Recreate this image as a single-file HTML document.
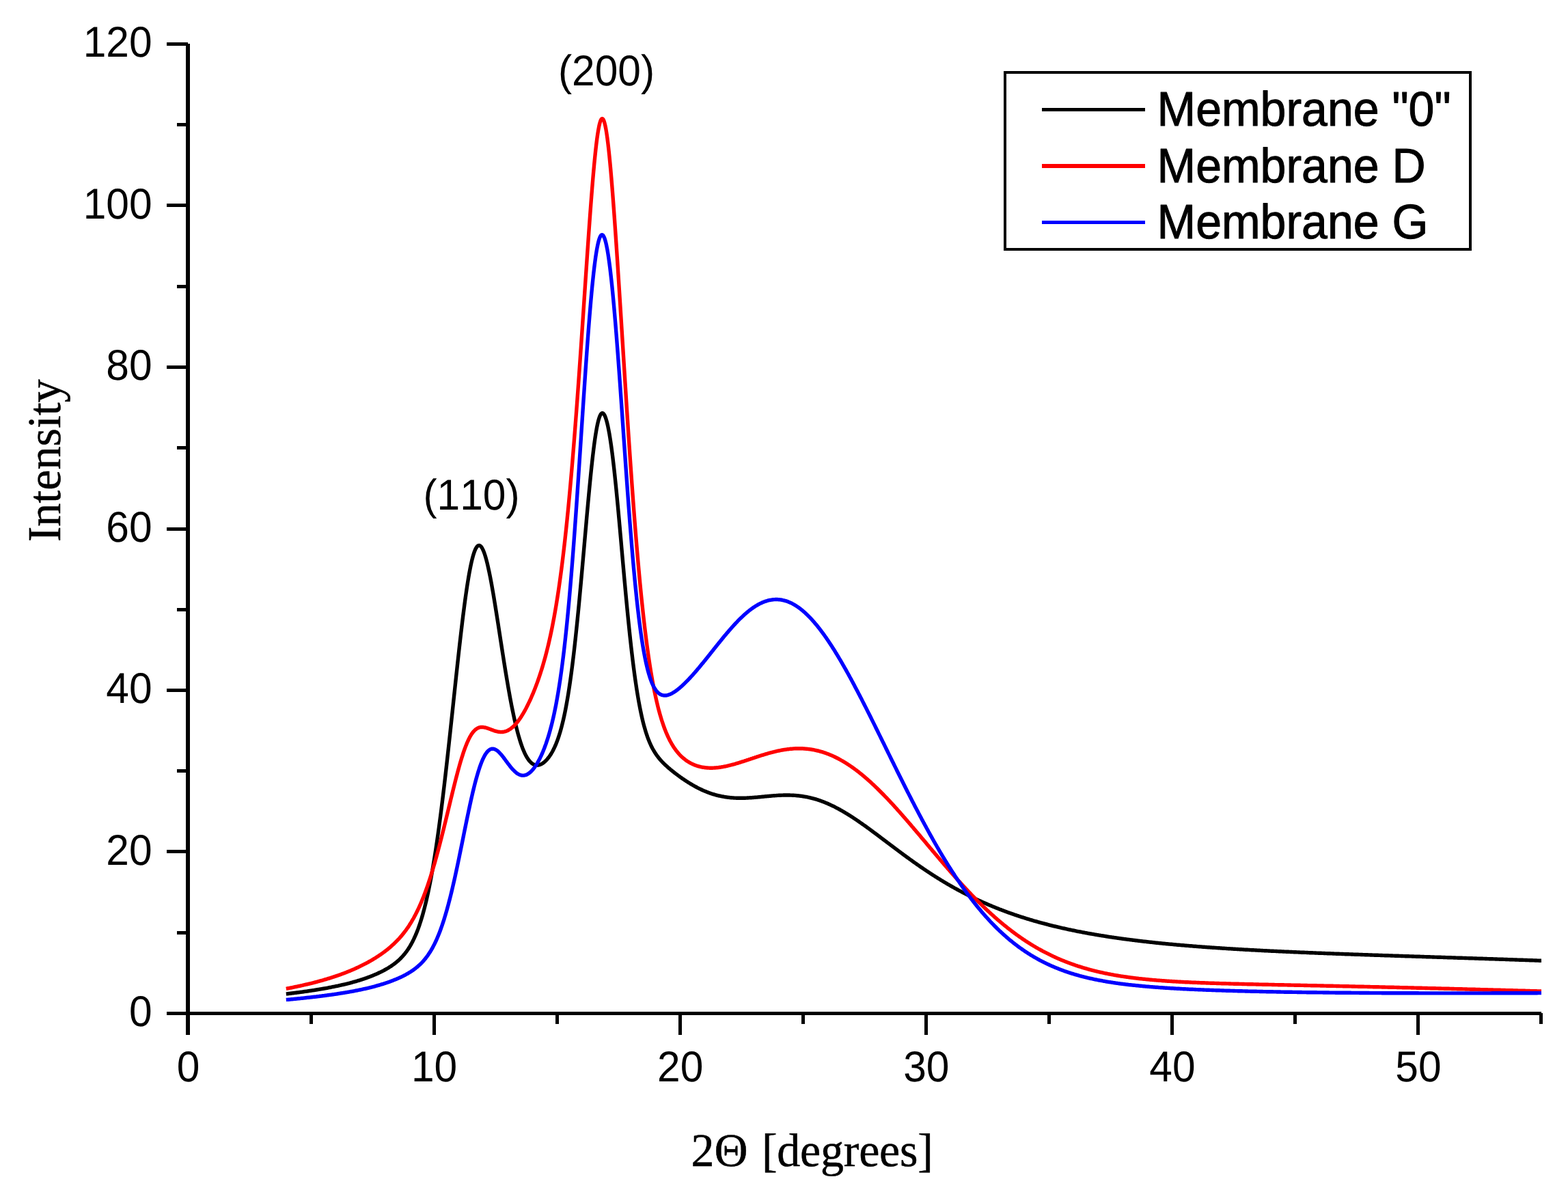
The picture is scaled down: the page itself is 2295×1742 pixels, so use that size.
<!DOCTYPE html>
<html lang="en">
<head>
<meta charset="utf-8">
<title>XRD patterns of membranes</title>
<style>
html,body{margin:0;padding:0;background:#fff;}
body{width:2295px;height:1742px;}
svg{display:block;}
text{font-kerning:none;font-variant-ligatures:none;text-rendering:geometricPrecision;}
.tick{font-family:"Liberation Sans",Arial,Helvetica,sans-serif;font-size:60.5px;fill:#000;}
.leg{font-family:"Liberation Sans",Arial,Helvetica,sans-serif;font-size:68px;fill:#000;stroke:#000;stroke-width:1px;stroke-linejoin:round;}
.ttl{font-family:"Liberation Serif","Times New Roman",Times,serif;font-size:68px;fill:#000;stroke:#000;stroke-width:0.5px;}
.ax{fill:#000;shape-rendering:crispEdges;}
.curve{fill:none;stroke-width:5.4;stroke-linejoin:round;stroke-linecap:butt;}
</style>
</head>
<body>
<svg width="2295" height="1742" viewBox="0 0 2295 1742">
<rect x="0" y="0" width="2295" height="1742" fill="#fff"/>
<g id="curves">
<path class="curve" stroke="#000000" d="M418.8 1455.0L419.8 1454.9 420.8 1454.8 421.8 1454.7 422.8 1454.5 423.8 1454.4 424.8 1454.3 425.8 1454.2 426.8 1454.0 427.8 1453.9 428.8 1453.8 429.8 1453.7 430.8 1453.5 431.8 1453.4 432.8 1453.3 433.8 1453.2 434.8 1453.0 435.8 1452.9 436.8 1452.8 437.8 1452.6 438.8 1452.5 439.8 1452.4 440.8 1452.2 441.8 1452.1 442.8 1452.0 443.8 1451.8 444.8 1451.7 445.8 1451.5 446.8 1451.4 447.8 1451.3 448.8 1451.1 449.8 1451.0 450.8 1450.8 451.8 1450.7 452.8 1450.5 453.8 1450.4 454.8 1450.2 455.8 1450.1 456.8 1449.9 457.8 1449.8 458.8 1449.6 459.8 1449.5 460.8 1449.3 461.8 1449.2 462.8 1449.0 463.8 1448.8 464.8 1448.7 465.8 1448.5 466.8 1448.4 467.8 1448.2 468.8 1448.0 469.8 1447.9 470.8 1447.7 471.8 1447.5 472.8 1447.3 473.8 1447.2 474.8 1447.0 475.8 1446.8 476.8 1446.6 477.8 1446.5 478.8 1446.3 479.8 1446.1 480.8 1445.9 481.8 1445.7 482.8 1445.5 483.8 1445.3 484.8 1445.1 485.8 1444.9 486.8 1444.7 487.8 1444.5 488.8 1444.3 489.8 1444.1 490.8 1443.9 491.8 1443.7 492.8 1443.5 493.8 1443.3 494.8 1443.1 495.8 1442.9 496.8 1442.6 497.8 1442.4 498.8 1442.2 499.8 1442.0 500.8 1441.7 501.8 1441.5 502.8 1441.3 503.8 1441.0 504.8 1440.8 505.8 1440.6 506.8 1440.3 507.8 1440.1 508.8 1439.8 509.8 1439.6 510.8 1439.3 511.8 1439.1 512.8 1438.8 513.8 1438.5 514.8 1438.3 515.8 1438.0 516.8 1437.7 517.8 1437.4 518.8 1437.1 519.8 1436.9 520.8 1436.6 521.8 1436.3 522.8 1436.0 523.8 1435.7 524.8 1435.4 525.8 1435.1 526.8 1434.8 527.8 1434.4 528.8 1434.1 529.8 1433.8 530.8 1433.5 531.8 1433.1 532.8 1432.8 533.8 1432.5 534.8 1432.1 535.8 1431.8 536.8 1431.4 537.8 1431.0 538.8 1430.7 539.8 1430.3 540.8 1429.9 541.8 1429.6 542.8 1429.2 543.8 1428.8 544.8 1428.4 545.8 1428.0 546.8 1427.6 547.8 1427.1 548.8 1426.7 549.8 1426.3 550.8 1425.9 551.8 1425.4 552.8 1425.0 553.8 1424.5 554.8 1424.0 555.8 1423.6 556.8 1423.1 557.8 1422.6 558.8 1422.1 559.8 1421.6 560.8 1421.1 561.8 1420.6 562.8 1420.0 563.8 1419.5 564.8 1418.9 565.8 1418.3 566.8 1417.8 567.8 1417.2 568.8 1416.6 569.8 1415.9 570.8 1415.3 571.8 1414.7 572.8 1414.0 573.8 1413.3 574.8 1412.6 575.8 1411.9 576.8 1411.2 577.8 1410.4 578.8 1409.6 579.8 1408.8 580.8 1408.0 581.8 1407.1 582.8 1406.3 583.8 1405.4 584.8 1404.4 585.8 1403.5 586.8 1402.5 587.8 1401.4 588.8 1400.4 589.8 1399.3 590.8 1398.1 591.8 1396.9 592.8 1395.7 593.8 1394.4 594.8 1393.1 595.8 1391.7 596.8 1390.3 597.8 1388.8 598.8 1387.2 599.8 1385.6 600.8 1383.9 601.8 1382.1 602.8 1380.3 603.8 1378.4 604.8 1376.4 605.8 1374.4 606.8 1372.2 607.8 1370.0 608.8 1367.7 609.8 1365.2 610.8 1362.7 611.8 1360.1 612.8 1357.3 613.8 1354.5 614.8 1351.5 615.8 1348.4 616.8 1345.2 617.8 1341.9 618.8 1338.4 619.8 1334.8 620.8 1331.1 621.8 1327.2 622.8 1323.2 623.8 1319.0 624.8 1314.7 625.8 1310.2 626.8 1305.6 627.8 1300.8 628.8 1295.8 629.8 1290.7 630.8 1285.4 631.8 1279.9 632.8 1274.3 633.8 1268.5 634.8 1262.5 635.8 1256.4 636.8 1250.1 637.8 1243.6 638.8 1237.0 639.8 1230.2 640.8 1223.2 641.8 1216.0 642.8 1208.7 643.8 1201.2 644.8 1193.6 645.8 1185.8 646.8 1177.9 647.8 1169.8 648.8 1161.6 649.8 1153.2 650.8 1144.7 651.8 1136.1 652.8 1127.4 653.8 1118.6 654.8 1109.6 655.8 1100.6 656.8 1091.5 657.8 1082.3 658.8 1073.1 659.8 1063.8 660.8 1054.4 661.8 1045.1 662.8 1035.7 663.8 1026.3 664.8 1016.9 665.8 1007.5 666.8 998.1 667.8 988.8 668.8 979.6 669.8 970.4 670.8 961.3 671.8 952.3 672.8 943.4 673.8 934.6 674.8 926.0 675.8 917.6 676.8 909.3 677.8 901.2 678.8 893.3 679.8 885.6 680.8 878.2 681.8 871.0 682.8 864.1 683.8 857.4 684.8 851.1 685.8 845.0 686.8 839.3 687.8 833.9 688.8 828.9 689.8 824.2 690.8 819.9 691.8 816.0 692.8 812.4 693.8 809.2 694.8 806.5 695.8 804.1 696.8 802.2 697.8 800.6 698.8 799.5 699.8 798.8 700.8 798.4 701.8 798.5 702.8 798.9 703.8 799.8 704.8 801.0 705.8 802.6 706.8 804.6 707.8 806.9 708.8 809.5 709.8 812.5 710.8 815.8 711.8 819.4 712.8 823.2 713.8 827.4 714.8 831.8 715.8 836.4 716.8 841.3 717.8 846.3 718.8 851.6 719.8 857.1 720.8 862.7 721.8 868.4 722.8 874.3 723.8 880.4 724.8 886.5 725.8 892.7 726.8 899.0 727.8 905.3 728.8 911.7 729.8 918.2 730.8 924.6 731.8 931.1 732.8 937.6 733.8 944.0 734.8 950.5 735.8 956.9 736.8 963.2 737.8 969.6 738.8 975.8 739.8 982.0 740.8 988.0 741.8 994.0 742.8 999.9 743.8 1005.7 744.8 1011.4 745.8 1017.0 746.8 1022.4 747.8 1027.7 748.8 1032.9 749.8 1037.9 750.8 1042.8 751.8 1047.5 752.8 1052.1 753.8 1056.5 754.8 1060.8 755.8 1064.9 756.8 1068.9 757.8 1072.7 758.8 1076.4 759.8 1079.8 760.8 1083.2 761.8 1086.3 762.8 1089.3 763.8 1092.2 764.8 1094.9 765.8 1097.4 766.8 1099.8 767.8 1102.1 768.8 1104.2 769.8 1106.1 770.8 1107.9 771.8 1109.6 772.8 1111.1 773.8 1112.5 774.8 1113.8 775.8 1114.9 776.8 1115.9 777.8 1116.8 778.8 1117.6 779.8 1118.3 780.8 1118.8 781.8 1119.3 782.8 1119.7 783.8 1119.9 784.8 1120.1 785.8 1120.2 786.8 1120.1 787.8 1120.0 788.8 1119.8 789.8 1119.6 790.8 1119.2 791.8 1118.8 792.8 1118.3 793.8 1117.7 794.8 1117.0 795.8 1116.3 796.8 1115.5 797.8 1114.6 798.8 1113.6 799.8 1112.6 800.8 1111.5 801.8 1110.3 802.8 1109.1 803.8 1107.7 804.8 1106.3 805.8 1104.8 806.8 1103.2 807.8 1101.5 808.8 1099.7 809.8 1097.8 810.8 1095.8 811.8 1093.7 812.8 1091.4 813.8 1089.1 814.8 1086.6 815.8 1083.9 816.8 1081.1 817.8 1078.2 818.8 1075.0 819.8 1071.8 820.8 1068.3 821.8 1064.6 822.8 1060.7 823.8 1056.7 824.8 1052.4 825.8 1047.9 826.8 1043.1 827.8 1038.1 828.8 1032.8 829.8 1027.3 830.8 1021.5 831.8 1015.5 832.8 1009.1 833.8 1002.5 834.8 995.6 835.8 988.4 836.8 980.9 837.8 973.1 838.8 965.0 839.8 956.7 840.8 948.0 841.8 939.0 842.8 929.8 843.8 920.3 844.8 910.6 845.8 900.6 846.8 890.4 847.8 879.9 848.8 869.3 849.8 858.4 850.8 847.5 851.8 836.3 852.8 825.1 853.8 813.8 854.8 802.4 855.8 791.1 856.8 779.7 857.8 768.4 858.8 757.1 859.8 746.0 860.8 735.0 861.8 724.2 862.8 713.7 863.8 703.4 864.8 693.5 865.8 683.9 866.8 674.7 867.8 666.0 868.8 657.7 869.8 649.9 870.8 642.7 871.8 636.1 872.8 630.1 873.8 624.6 874.8 619.9 875.8 615.7 876.8 612.3 877.8 609.4 878.8 607.3 879.8 605.8 880.8 604.9 881.8 604.7 882.8 605.1 883.8 606.1 884.8 607.7 885.8 609.9 886.8 612.7 887.8 616.0 888.8 619.8 889.8 624.2 890.8 629.2 891.8 634.6 892.8 640.6 893.8 647.1 894.8 654.0 895.8 661.5 896.8 669.4 897.8 677.7 898.8 686.5 899.8 695.6 900.8 705.2 901.8 715.0 902.8 725.2 903.8 735.7 904.8 746.3 905.8 757.2 906.8 768.2 907.8 779.4 908.8 790.6 909.8 801.9 910.8 813.2 911.8 824.4 912.8 835.6 913.8 846.7 914.8 857.6 915.8 868.5 916.8 879.1 917.8 889.6 918.8 899.8 919.8 909.8 920.8 919.6 921.8 929.1 922.8 938.3 923.8 947.3 924.8 955.9 925.8 964.3 926.8 972.4 927.8 980.2 928.8 987.7 929.8 994.8 930.8 1001.7 931.8 1008.3 932.8 1014.6 933.8 1020.6 934.8 1026.4 935.8 1031.8 936.8 1037.0 937.8 1041.9 938.8 1046.6 939.8 1051.1 940.8 1055.3 941.8 1059.3 942.8 1063.1 943.8 1066.6 944.8 1070.0 945.8 1073.2 946.8 1076.2 947.8 1079.1 948.8 1081.8 949.8 1084.3 950.8 1086.7 951.8 1089.0 952.8 1091.2 953.8 1093.2 954.8 1095.2 955.8 1097.0 956.8 1098.8 957.8 1100.4 958.8 1102.0 959.8 1103.5 960.8 1105.0 961.8 1106.4 962.8 1107.7 963.8 1109.0 964.8 1110.2 965.8 1111.4 966.8 1112.6 967.8 1113.7 968.8 1114.8 969.8 1115.8 970.8 1116.8 971.8 1117.8 972.8 1118.8 973.8 1119.8 974.8 1120.7 975.8 1121.6 976.8 1122.5 977.8 1123.4 978.8 1124.3 979.8 1125.1 980.8 1126.0 981.8 1126.8 982.8 1127.6 983.8 1128.4 984.8 1129.3 985.8 1130.0 986.8 1130.8 987.8 1131.6 988.8 1132.4 989.8 1133.1 990.8 1133.9 991.8 1134.6 992.8 1135.4 993.8 1136.1 994.8 1136.8 995.8 1137.6 996.8 1138.3 997.8 1139.0 998.8 1139.7 999.8 1140.4 1000.8 1141.0 1001.8 1141.7 1002.8 1142.4 1003.8 1143.0 1004.8 1143.7 1005.8 1144.3 1006.8 1145.0 1007.8 1145.6 1008.8 1146.2 1009.8 1146.8 1010.8 1147.5 1011.8 1148.0 1012.8 1148.6 1013.8 1149.2 1014.8 1149.8 1015.8 1150.4 1016.8 1150.9 1017.8 1151.5 1018.8 1152.0 1019.8 1152.5 1020.8 1153.1 1021.8 1153.6 1022.8 1154.1 1023.8 1154.6 1024.8 1155.1 1025.8 1155.5 1026.8 1156.0 1027.8 1156.5 1028.8 1156.9 1029.8 1157.4 1030.8 1157.8 1031.8 1158.2 1032.8 1158.6 1033.8 1159.0 1034.8 1159.4 1035.8 1159.8 1036.8 1160.2 1037.8 1160.6 1038.8 1160.9 1039.8 1161.3 1040.8 1161.6 1041.8 1162.0 1042.8 1162.3 1043.8 1162.6 1044.8 1162.9 1045.8 1163.2 1046.8 1163.5 1047.8 1163.8 1048.8 1164.0 1049.8 1164.3 1050.8 1164.5 1051.8 1164.8 1052.8 1165.0 1053.8 1165.2 1054.8 1165.4 1055.8 1165.7 1056.8 1165.9 1057.8 1166.0 1058.8 1166.2 1059.8 1166.4 1060.8 1166.6 1061.8 1166.7 1062.8 1166.9 1063.8 1167.0 1064.8 1167.1 1065.8 1167.3 1066.8 1167.4 1067.8 1167.5 1068.8 1167.6 1069.8 1167.7 1070.8 1167.8 1071.8 1167.9 1072.8 1167.9 1073.8 1168.0 1074.8 1168.1 1075.8 1168.1 1076.8 1168.1 1077.8 1168.2 1078.8 1168.2 1079.8 1168.2 1080.8 1168.3 1081.8 1168.3 1082.8 1168.3 1083.8 1168.3 1084.8 1168.3 1085.8 1168.3 1086.8 1168.3 1087.8 1168.3 1088.8 1168.2 1089.8 1168.2 1090.8 1168.2 1091.8 1168.1 1092.8 1168.1 1093.8 1168.0 1094.8 1168.0 1095.8 1167.9 1096.8 1167.9 1097.8 1167.8 1098.8 1167.8 1099.8 1167.7 1100.8 1167.6 1101.8 1167.5 1102.8 1167.5 1103.8 1167.4 1104.8 1167.3 1105.8 1167.2 1106.8 1167.1 1107.8 1167.1 1108.8 1167.0 1109.8 1166.9 1110.8 1166.8 1111.8 1166.7 1112.8 1166.6 1113.8 1166.5 1114.8 1166.4 1115.8 1166.3 1116.8 1166.2 1117.8 1166.1 1118.8 1166.0 1119.8 1165.9 1120.8 1165.8 1121.8 1165.7 1122.8 1165.6 1123.8 1165.5 1124.8 1165.5 1125.8 1165.4 1126.8 1165.3 1127.8 1165.2 1128.8 1165.1 1129.8 1165.0 1130.8 1164.9 1131.8 1164.9 1132.8 1164.8 1133.8 1164.7 1134.8 1164.6 1135.8 1164.6 1136.8 1164.5 1137.8 1164.4 1138.8 1164.4 1139.8 1164.3 1140.8 1164.3 1141.8 1164.2 1142.8 1164.2 1143.8 1164.1 1144.8 1164.1 1145.8 1164.1 1146.8 1164.0 1147.8 1164.0 1148.8 1164.0 1149.8 1164.0 1150.8 1164.0 1151.8 1164.0 1152.8 1164.0 1153.8 1164.0 1154.8 1164.0 1155.8 1164.0 1156.8 1164.1 1157.8 1164.1 1158.8 1164.1 1159.8 1164.2 1160.8 1164.2 1161.8 1164.3 1162.8 1164.4 1163.8 1164.4 1164.8 1164.5 1165.8 1164.6 1166.8 1164.7 1167.8 1164.8 1168.8 1164.9 1169.8 1165.0 1170.8 1165.1 1171.8 1165.2 1172.8 1165.4 1173.8 1165.5 1174.8 1165.7 1175.8 1165.8 1176.8 1166.0 1177.8 1166.1 1178.8 1166.3 1179.8 1166.5 1180.8 1166.7 1181.8 1166.9 1182.8 1167.1 1183.8 1167.3 1184.8 1167.5 1185.8 1167.8 1186.8 1168.0 1187.8 1168.3 1188.8 1168.5 1189.8 1168.8 1190.8 1169.0 1191.8 1169.3 1192.8 1169.6 1193.8 1169.9 1194.8 1170.2 1195.8 1170.5 1196.8 1170.8 1197.8 1171.2 1198.8 1171.5 1199.8 1171.8 1200.8 1172.2 1201.8 1172.5 1202.8 1172.9 1203.8 1173.3 1204.8 1173.7 1205.8 1174.0 1206.8 1174.4 1207.8 1174.8 1208.8 1175.3 1209.8 1175.7 1210.8 1176.1 1211.8 1176.5 1212.8 1177.0 1213.8 1177.4 1214.8 1177.9 1215.8 1178.3 1216.8 1178.8 1217.8 1179.3 1218.8 1179.8 1219.8 1180.2 1220.8 1180.7 1221.8 1181.2 1222.8 1181.8 1223.8 1182.3 1224.8 1182.8 1225.8 1183.3 1226.8 1183.9 1227.8 1184.4 1228.8 1185.0 1229.8 1185.5 1230.8 1186.1 1231.8 1186.6 1232.8 1187.2 1233.8 1187.8 1234.8 1188.4 1235.8 1189.0 1236.8 1189.6 1237.8 1190.2 1238.8 1190.8 1239.8 1191.4 1240.8 1192.0 1241.8 1192.6 1242.8 1193.2 1243.8 1193.9 1244.8 1194.5 1245.8 1195.1 1246.8 1195.8 1247.8 1196.4 1248.8 1197.1 1249.8 1197.8 1250.8 1198.4 1251.8 1199.1 1252.8 1199.8 1253.8 1200.4 1254.8 1201.1 1255.8 1201.8 1256.8 1202.5 1257.8 1203.2 1258.8 1203.9 1259.8 1204.6 1260.8 1205.3 1261.8 1206.0 1262.8 1206.7 1263.8 1207.4 1264.8 1208.1 1265.8 1208.8 1266.8 1209.5 1267.8 1210.2 1268.8 1211.0 1269.8 1211.7 1270.8 1212.4 1271.8 1213.1 1272.8 1213.9 1273.8 1214.6 1274.8 1215.3 1275.8 1216.1 1276.8 1216.8 1277.8 1217.6 1278.8 1218.3 1279.8 1219.1 1280.8 1219.8 1281.8 1220.5 1282.8 1221.3 1283.8 1222.0 1284.8 1222.8 1285.8 1223.5 1286.8 1224.3 1287.8 1225.0 1288.8 1225.8 1289.8 1226.6 1290.8 1227.3 1291.8 1228.1 1292.8 1228.8 1293.8 1229.6 1294.8 1230.3 1295.8 1231.1 1296.8 1231.8 1297.8 1232.6 1298.8 1233.4 1299.8 1234.1 1300.8 1234.9 1301.8 1235.6 1302.8 1236.4 1303.8 1237.1 1304.8 1237.9 1305.8 1238.6 1306.8 1239.4 1307.8 1240.1 1308.8 1240.9 1309.8 1241.6 1310.8 1242.4 1311.8 1243.1 1312.8 1243.9 1313.8 1244.6 1314.8 1245.4 1315.8 1246.1 1316.8 1246.9 1317.8 1247.6 1318.8 1248.4 1319.8 1249.1 1320.8 1249.8 1321.8 1250.6 1322.8 1251.3 1323.8 1252.1 1324.8 1252.8 1325.8 1253.5 1326.8 1254.3 1327.8 1255.0 1328.8 1255.7 1329.8 1256.4 1330.8 1257.2 1331.8 1257.9 1332.8 1258.6 1333.8 1259.3 1334.8 1260.0 1335.8 1260.8 1336.8 1261.5 1337.8 1262.2 1338.8 1262.9 1339.8 1263.6 1340.8 1264.3 1341.8 1265.0 1342.8 1265.7 1343.8 1266.4 1344.8 1267.1 1345.8 1267.8 1346.8 1268.5 1347.8 1269.2 1348.8 1269.9 1349.8 1270.5 1350.8 1271.2 1351.8 1271.9 1352.8 1272.6 1353.8 1273.3 1354.8 1273.9 1355.8 1274.6 1356.8 1275.3 1357.8 1275.9 1358.8 1276.6 1359.8 1277.2 1360.8 1277.9 1361.8 1278.6 1362.8 1279.2 1363.8 1279.9 1364.8 1280.5 1365.8 1281.2 1366.8 1281.8 1367.8 1282.4 1368.8 1283.1 1369.8 1283.7 1370.8 1284.3 1371.8 1285.0 1372.8 1285.6 1373.8 1286.2 1374.8 1286.8 1375.8 1287.4 1376.8 1288.1 1377.8 1288.7 1378.8 1289.3 1379.8 1289.9 1380.8 1290.5 1381.8 1291.1 1382.8 1291.7 1383.8 1292.3 1384.8 1292.9 1385.8 1293.5 1386.8 1294.1 1387.8 1294.6 1388.8 1295.2 1389.8 1295.8 1390.8 1296.4 1391.8 1297.0 1392.8 1297.5 1393.8 1298.1 1394.8 1298.7 1395.8 1299.2 1396.8 1299.8 1397.8 1300.3 1398.8 1300.9 1399.8 1301.4 1400.8 1302.0 1401.8 1302.5 1402.8 1303.1 1403.8 1303.6 1404.8 1304.2 1405.8 1304.7 1406.8 1305.2 1407.8 1305.8 1408.8 1306.3 1409.8 1306.8 1410.8 1307.3 1411.8 1307.8 1412.8 1308.4 1413.8 1308.9 1414.8 1309.4 1415.8 1309.9 1416.8 1310.4 1417.8 1310.9 1418.8 1311.4 1419.8 1311.9 1420.8 1312.4 1421.8 1312.9 1422.8 1313.4 1423.8 1313.9 1424.8 1314.3 1425.8 1314.8 1426.8 1315.3 1427.8 1315.8 1428.8 1316.3 1429.8 1316.7 1430.8 1317.2 1431.8 1317.7 1432.8 1318.1 1433.8 1318.6 1434.8 1319.0 1435.8 1319.5 1436.8 1319.9 1437.8 1320.4 1438.8 1320.8 1439.8 1321.3 1440.8 1321.7 1441.8 1322.2 1442.8 1322.6 1443.8 1323.0 1444.8 1323.5 1445.8 1323.9 1446.8 1324.3 1447.8 1324.8 1448.8 1325.2 1449.8 1325.6 1450.8 1326.0 1451.8 1326.4 1452.8 1326.9 1453.8 1327.3 1454.8 1327.7 1455.8 1328.1 1456.8 1328.5 1457.8 1328.9 1458.8 1329.3 1459.8 1329.7 1460.8 1330.1 1461.8 1330.5 1462.8 1330.9 1463.8 1331.3 1464.8 1331.6 1465.8 1332.0 1466.8 1332.4 1467.8 1332.8 1468.8 1333.2 1469.8 1333.5 1470.8 1333.9 1471.8 1334.3 1472.8 1334.7 1473.8 1335.0 1474.8 1335.4 1475.8 1335.8 1476.8 1336.1 1477.8 1336.5 1478.8 1336.8 1479.8 1337.2 1480.8 1337.5 1481.8 1337.9 1482.8 1338.2 1483.8 1338.6 1484.8 1338.9 1485.8 1339.3 1486.8 1339.6 1487.8 1339.9 1488.8 1340.3 1489.8 1340.6 1490.8 1340.9 1491.8 1341.3 1492.8 1341.6 1493.8 1341.9 1494.8 1342.3 1495.8 1342.6 1496.8 1342.9 1497.8 1343.2 1498.8 1343.5 1499.8 1343.8 1500.8 1344.2 1501.8 1344.5 1502.8 1344.8 1503.8 1345.1 1504.8 1345.4 1505.8 1345.7 1506.8 1346.0 1507.8 1346.3 1508.8 1346.6 1509.8 1346.9 1510.8 1347.2 1511.8 1347.5 1512.8 1347.8 1513.8 1348.1 1514.8 1348.3 1515.8 1348.6 1516.8 1348.9 1517.8 1349.2 1518.8 1349.5 1519.8 1349.8 1520.8 1350.0 1521.8 1350.3 1522.8 1350.6 1523.8 1350.9 1524.8 1351.1 1525.8 1351.4 1526.8 1351.7 1527.8 1351.9 1528.8 1352.2 1529.8 1352.5 1530.8 1352.7 1531.8 1353.0 1532.8 1353.2 1533.8 1353.5 1534.8 1353.8 1535.8 1354.0 1536.8 1354.3 1537.8 1354.5 1538.8 1354.8 1539.8 1355.0 1540.8 1355.3 1541.8 1355.5 1542.8 1355.8 1543.8 1356.0 1544.8 1356.2 1545.8 1356.5 1546.8 1356.7 1547.8 1357.0 1548.8 1357.2 1549.8 1357.4 1550.8 1357.7 1551.8 1357.9 1552.8 1358.1 1553.8 1358.3 1554.8 1358.6 1555.8 1358.8 1556.8 1359.0 1557.8 1359.2 1558.8 1359.5 1559.8 1359.7 1560.8 1359.9 1561.8 1360.1 1562.8 1360.3 1563.8 1360.6 1564.8 1360.8 1565.8 1361.0 1566.8 1361.2 1567.8 1361.4 1568.8 1361.6 1569.8 1361.8 1570.8 1362.0 1571.8 1362.2 1572.8 1362.4 1573.8 1362.6 1574.8 1362.9 1575.8 1363.1 1576.8 1363.3 1577.8 1363.5 1578.8 1363.6 1579.8 1363.8 1580.8 1364.0 1581.8 1364.2 1582.8 1364.4 1583.8 1364.6 1584.8 1364.8 1585.8 1365.0 1586.8 1365.2 1587.8 1365.4 1588.8 1365.6 1589.8 1365.7 1590.8 1365.9 1591.8 1366.1 1592.8 1366.3 1593.8 1366.5 1594.8 1366.7 1595.8 1366.8 1596.8 1367.0 1597.8 1367.2 1598.8 1367.4 1599.8 1367.5 1600.8 1367.7 1601.8 1367.9 1602.8 1368.1 1603.8 1368.2 1604.8 1368.4 1605.8 1368.6 1606.8 1368.7 1607.8 1368.9 1608.8 1369.1 1609.8 1369.2 1610.8 1369.4 1611.8 1369.6 1612.8 1369.7 1613.8 1369.9 1614.8 1370.0 1615.8 1370.2 1616.8 1370.4 1617.8 1370.5 1618.8 1370.7 1619.8 1370.8 1620.8 1371.0 1621.8 1371.1 1622.8 1371.3 1623.8 1371.5 1624.8 1371.6 1625.8 1371.8 1626.8 1371.9 1627.8 1372.1 1628.8 1372.2 1629.8 1372.3 1630.8 1372.5 1631.8 1372.6 1632.8 1372.8 1633.8 1372.9 1634.8 1373.1 1635.8 1373.2 1636.8 1373.4 1637.8 1373.5 1638.8 1373.6 1639.8 1373.8 1640.8 1373.9 1641.8 1374.1 1642.8 1374.2 1643.8 1374.3 1644.8 1374.5 1645.8 1374.6 1646.8 1374.7 1647.8 1374.9 1648.8 1375.0 1649.8 1375.1 1650.8 1375.3 1651.8 1375.4 1652.8 1375.5 1653.8 1375.6 1654.8 1375.8 1655.8 1375.9 1656.8 1376.0 1657.8 1376.2 1658.8 1376.3 1659.8 1376.4 1660.8 1376.5 1661.8 1376.7 1662.8 1376.8 1663.8 1376.9 1664.8 1377.0 1665.8 1377.1 1666.8 1377.3 1667.8 1377.4 1668.8 1377.5 1669.8 1377.6 1670.8 1377.7 1671.8 1377.9 1672.8 1378.0 1673.8 1378.1 1674.8 1378.2 1675.8 1378.3 1676.8 1378.4 1677.8 1378.5 1678.8 1378.7 1679.8 1378.8 1680.8 1378.9 1681.8 1379.0 1682.8 1379.1 1683.8 1379.2 1684.8 1379.3 1685.8 1379.4 1686.8 1379.5 1687.8 1379.6 1688.8 1379.7 1689.8 1379.9 1690.8 1380.0 1691.8 1380.1 1692.8 1380.2 1693.8 1380.3 1694.8 1380.4 1695.8 1380.5 1696.8 1380.6 1697.8 1380.7 1698.8 1380.8 1699.8 1380.9 1700.8 1381.0 1701.8 1381.1 1702.8 1381.2 1703.8 1381.3 1704.8 1381.4 1705.8 1381.5 1706.8 1381.6 1707.8 1381.7 1708.8 1381.8 1709.8 1381.9 1710.8 1382.0 1711.8 1382.1 1712.8 1382.1 1713.8 1382.2 1714.8 1382.3 1715.8 1382.4 1716.8 1382.5 1717.8 1382.6 1718.8 1382.7 1719.8 1382.8 1720.8 1382.9 1721.8 1383.0 1722.8 1383.1 1723.8 1383.2 1724.8 1383.2 1725.8 1383.3 1726.8 1383.4 1727.8 1383.5 1728.8 1383.6 1729.8 1383.7 1730.8 1383.8 1731.8 1383.8 1732.8 1383.9 1733.8 1384.0 1734.8 1384.1 1735.8 1384.2 1736.8 1384.3 1737.8 1384.4 1738.8 1384.4 1739.8 1384.5 1740.8 1384.6 1741.8 1384.7 1742.8 1384.8 1743.8 1384.8 1744.8 1384.9 1745.8 1385.0 1746.8 1385.1 1747.8 1385.2 1748.8 1385.2 1749.8 1385.3 1750.8 1385.4 1751.8 1385.5 1752.8 1385.6 1753.8 1385.6 1754.8 1385.7 1755.8 1385.8 1756.8 1385.9 1757.8 1385.9 1758.8 1386.0 1759.8 1386.1 1760.8 1386.2 1761.8 1386.2 1762.8 1386.3 1763.8 1386.4 1764.8 1386.5 1765.8 1386.5 1766.8 1386.6 1767.8 1386.7 1768.8 1386.7 1769.8 1386.8 1770.8 1386.9 1771.8 1387.0 1772.8 1387.0 1773.8 1387.1 1774.8 1387.2 1775.8 1387.2 1776.8 1387.3 1777.8 1387.4 1778.8 1387.4 1779.8 1387.5 1780.8 1387.6 1781.8 1387.6 1782.8 1387.7 1783.8 1387.8 1784.8 1387.8 1785.8 1387.9 1786.8 1388.0 1787.8 1388.0 1788.8 1388.1 1789.8 1388.2 1790.8 1388.2 1791.8 1388.3 1792.8 1388.4 1793.8 1388.4 1794.8 1388.5 1795.8 1388.6 1796.8 1388.6 1797.8 1388.7 1798.8 1388.7 1799.8 1388.8 1800.8 1388.9 1801.8 1388.9 1802.8 1389.0 1803.8 1389.0 1804.8 1389.1 1805.8 1389.2 1806.8 1389.2 1807.8 1389.3 1808.8 1389.4 1809.8 1389.4 1810.8 1389.5 1811.8 1389.5 1812.8 1389.6 1813.8 1389.6 1814.8 1389.7 1815.8 1389.8 1816.8 1389.8 1817.8 1389.9 1818.8 1389.9 1819.8 1390.0 1820.8 1390.1 1821.8 1390.1 1822.8 1390.2 1823.8 1390.2 1824.8 1390.3 1825.8 1390.3 1826.8 1390.4 1827.8 1390.4 1828.8 1390.5 1829.8 1390.6 1830.8 1390.6 1831.8 1390.7 1832.8 1390.7 1833.8 1390.8 1834.8 1390.8 1835.8 1390.9 1836.8 1390.9 1837.8 1391.0 1838.8 1391.0 1839.8 1391.1 1840.8 1391.1 1841.8 1391.2 1842.8 1391.2 1843.8 1391.3 1844.8 1391.4 1845.8 1391.4 1846.8 1391.5 1847.8 1391.5 1848.8 1391.6 1849.8 1391.6 1850.8 1391.7 1851.8 1391.7 1852.8 1391.8 1853.8 1391.8 1854.8 1391.9 1855.8 1391.9 1856.8 1392.0 1857.8 1392.0 1858.8 1392.1 1859.8 1392.1 1860.8 1392.2 1861.8 1392.2 1862.8 1392.3 1863.8 1392.3 1864.8 1392.4 1865.8 1392.4 1866.8 1392.4 1867.8 1392.5 1868.8 1392.5 1869.8 1392.6 1870.8 1392.6 1871.8 1392.7 1872.8 1392.7 1873.8 1392.8 1874.8 1392.8 1875.8 1392.9 1876.8 1392.9 1877.8 1393.0 1878.8 1393.0 1879.8 1393.1 1880.8 1393.1 1881.8 1393.1 1882.8 1393.2 1883.8 1393.2 1884.8 1393.3 1885.8 1393.3 1886.8 1393.4 1887.8 1393.4 1888.8 1393.5 1889.8 1393.5 1890.8 1393.5 1891.8 1393.6 1892.8 1393.6 1893.8 1393.7 1894.8 1393.7 1895.8 1393.8 1896.8 1393.8 1897.8 1393.9 1898.8 1393.9 1899.8 1393.9 1900.8 1394.0 1901.8 1394.0 1902.8 1394.1 1903.8 1394.1 1904.8 1394.2 1905.8 1394.2 1906.8 1394.2 1907.8 1394.3 1908.8 1394.3 1909.8 1394.4 1910.8 1394.4 1911.8 1394.4 1912.8 1394.5 1913.8 1394.5 1914.8 1394.6 1915.8 1394.6 1916.8 1394.7 1917.8 1394.7 1918.8 1394.7 1919.8 1394.8 1920.8 1394.8 1921.8 1394.9 1922.8 1394.9 1923.8 1394.9 1924.8 1395.0 1925.8 1395.0 1926.8 1395.1 1927.8 1395.1 1928.8 1395.1 1929.8 1395.2 1930.8 1395.2 1931.8 1395.3 1932.8 1395.3 1933.8 1395.3 1934.8 1395.4 1935.8 1395.4 1936.8 1395.4 1937.8 1395.5 1938.8 1395.5 1939.8 1395.6 1940.8 1395.6 1941.8 1395.6 1942.8 1395.7 1943.8 1395.7 1944.8 1395.8 1945.8 1395.8 1946.8 1395.8 1947.8 1395.9 1948.8 1395.9 1949.8 1395.9 1950.8 1396.0 1951.8 1396.0 1952.8 1396.1 1953.8 1396.1 1954.8 1396.1 1955.8 1396.2 1956.8 1396.2 1957.8 1396.2 1958.8 1396.3 1959.8 1396.3 1960.8 1396.4 1961.8 1396.4 1962.8 1396.4 1963.8 1396.5 1964.8 1396.5 1965.8 1396.5 1966.8 1396.6 1967.8 1396.6 1968.8 1396.7 1969.8 1396.7 1970.8 1396.7 1971.8 1396.8 1972.8 1396.8 1973.8 1396.8 1974.8 1396.9 1975.8 1396.9 1976.8 1396.9 1977.8 1397.0 1978.8 1397.0 1979.8 1397.0 1980.8 1397.1 1981.8 1397.1 1982.8 1397.2 1983.8 1397.2 1984.8 1397.2 1985.8 1397.3 1986.8 1397.3 1987.8 1397.3 1988.8 1397.4 1989.8 1397.4 1990.8 1397.4 1991.8 1397.5 1992.8 1397.5 1993.8 1397.5 1994.8 1397.6 1995.8 1397.6 1996.8 1397.6 1997.8 1397.7 1998.8 1397.7 1999.8 1397.7 2000.8 1397.8 2001.8 1397.8 2002.8 1397.9 2003.8 1397.9 2004.8 1397.9 2005.8 1398.0 2006.8 1398.0 2007.8 1398.0 2008.8 1398.1 2009.8 1398.1 2010.8 1398.1 2011.8 1398.2 2012.8 1398.2 2013.8 1398.2 2014.8 1398.3 2015.8 1398.3 2016.8 1398.3 2017.8 1398.4 2018.8 1398.4 2019.8 1398.4 2020.8 1398.5 2021.8 1398.5 2022.8 1398.5 2023.8 1398.6 2024.8 1398.6 2025.8 1398.6 2026.8 1398.7 2027.8 1398.7 2028.8 1398.7 2029.8 1398.8 2030.8 1398.8 2031.8 1398.8 2032.8 1398.9 2033.8 1398.9 2034.8 1398.9 2035.8 1399.0 2036.8 1399.0 2037.8 1399.0 2038.8 1399.1 2039.8 1399.1 2040.8 1399.1 2041.8 1399.2 2042.8 1399.2 2043.8 1399.2 2044.8 1399.3 2045.8 1399.3 2046.8 1399.3 2047.8 1399.4 2048.8 1399.4 2049.8 1399.4 2050.8 1399.5 2051.8 1399.5 2052.8 1399.5 2053.8 1399.6 2054.8 1399.6 2055.8 1399.6 2056.8 1399.7 2057.8 1399.7 2058.8 1399.7 2059.8 1399.8 2060.8 1399.8 2061.8 1399.8 2062.8 1399.9 2063.8 1399.9 2064.8 1399.9 2065.8 1399.9 2066.8 1400.0 2067.8 1400.0 2068.8 1400.0 2069.8 1400.1 2070.8 1400.1 2071.8 1400.1 2072.8 1400.2 2073.8 1400.2 2074.8 1400.2 2075.8 1400.3 2076.8 1400.3 2077.8 1400.3 2078.8 1400.4 2079.8 1400.4 2080.8 1400.4 2081.8 1400.5 2082.8 1400.5 2083.8 1400.5 2084.8 1400.6 2085.8 1400.6 2086.8 1400.6 2087.8 1400.7 2088.8 1400.7 2089.8 1400.7 2090.8 1400.8 2091.8 1400.8 2092.8 1400.8 2093.8 1400.9 2094.8 1400.9 2095.8 1400.9 2096.8 1401.0 2097.8 1401.0 2098.8 1401.0 2099.8 1401.1 2100.8 1401.1 2101.8 1401.1 2102.8 1401.1 2103.8 1401.2 2104.8 1401.2 2105.8 1401.2 2106.8 1401.3 2107.8 1401.3 2108.8 1401.3 2109.8 1401.4 2110.8 1401.4 2111.8 1401.4 2112.8 1401.5 2113.8 1401.5 2114.8 1401.5 2115.8 1401.6 2116.8 1401.6 2117.8 1401.6 2118.8 1401.7 2119.8 1401.7 2120.8 1401.7 2121.8 1401.8 2122.8 1401.8 2123.8 1401.8 2124.8 1401.9 2125.8 1401.9 2126.8 1401.9 2127.8 1402.0 2128.8 1402.0 2129.8 1402.0 2130.8 1402.1 2131.8 1402.1 2132.8 1402.1 2133.8 1402.2 2134.8 1402.2 2135.8 1402.2 2136.8 1402.3 2137.8 1402.3 2138.8 1402.3 2139.8 1402.3 2140.8 1402.4 2141.8 1402.4 2142.8 1402.4 2143.8 1402.5 2144.8 1402.5 2145.8 1402.5 2146.8 1402.6 2147.8 1402.6 2148.8 1402.6 2149.8 1402.7 2150.8 1402.7 2151.8 1402.7 2152.8 1402.8 2153.8 1402.8 2154.8 1402.8 2155.8 1402.9 2156.8 1402.9 2157.8 1402.9 2158.8 1403.0 2159.8 1403.0 2160.8 1403.0 2161.8 1403.1 2162.8 1403.1 2163.8 1403.1 2164.8 1403.2 2165.8 1403.2 2166.8 1403.2 2167.8 1403.3 2168.8 1403.3 2169.8 1403.3 2170.8 1403.4 2171.8 1403.4 2172.8 1403.4 2173.8 1403.5 2174.8 1403.5 2175.8 1403.5 2176.8 1403.6 2177.8 1403.6 2178.8 1403.6 2179.8 1403.7 2180.8 1403.7 2181.8 1403.7 2182.8 1403.8 2183.8 1403.8 2184.8 1403.8 2185.8 1403.9 2186.8 1403.9 2187.8 1403.9 2188.8 1404.0 2189.8 1404.0 2190.8 1404.0 2191.8 1404.1 2192.8 1404.1 2193.8 1404.1 2194.8 1404.2 2195.8 1404.2 2196.8 1404.2 2197.8 1404.3 2198.8 1404.3 2199.8 1404.3 2200.8 1404.4 2201.8 1404.4 2202.8 1404.4 2203.8 1404.5 2204.8 1404.5 2205.8 1404.5 2206.8 1404.6 2207.8 1404.6 2208.8 1404.6 2209.8 1404.7 2210.8 1404.7 2211.8 1404.7 2212.8 1404.8 2213.8 1404.8 2214.8 1404.9 2215.8 1404.9 2216.8 1404.9 2217.8 1405.0 2218.8 1405.0 2219.8 1405.0 2220.8 1405.1 2221.8 1405.1 2222.8 1405.1 2223.8 1405.2 2224.8 1405.2 2225.8 1405.2 2226.8 1405.3 2227.8 1405.3 2228.8 1405.3 2229.8 1405.4 2230.8 1405.4 2231.8 1405.4 2232.8 1405.5 2233.8 1405.5 2234.8 1405.5 2235.8 1405.6 2236.8 1405.6 2237.8 1405.6 2238.8 1405.7 2239.8 1405.7 2240.8 1405.8 2241.8 1405.8 2242.8 1405.8 2243.8 1405.9 2244.8 1405.9 2245.8 1405.9 2246.8 1406.0 2247.8 1406.0 2248.8 1406.0 2249.8 1406.1 2250.8 1406.1 2251.8 1406.1 2252.8 1406.2 2253.8 1406.2 2254.8 1406.3 2255.8 1406.3 2256.0 1406.3"/>
<path class="curve" stroke="#ff0000" d="M418.8 1447.3L419.8 1447.1 420.8 1446.9 421.8 1446.7 422.8 1446.6 423.8 1446.4 424.8 1446.2 425.8 1446.0 426.8 1445.8 427.8 1445.6 428.8 1445.4 429.8 1445.2 430.8 1445.0 431.8 1444.7 432.8 1444.5 433.8 1444.3 434.8 1444.1 435.8 1443.9 436.8 1443.7 437.8 1443.5 438.8 1443.3 439.8 1443.0 440.8 1442.8 441.8 1442.6 442.8 1442.4 443.8 1442.1 444.8 1441.9 445.8 1441.7 446.8 1441.5 447.8 1441.2 448.8 1441.0 449.8 1440.8 450.8 1440.5 451.8 1440.3 452.8 1440.0 453.8 1439.8 454.8 1439.6 455.8 1439.3 456.8 1439.1 457.8 1438.8 458.8 1438.6 459.8 1438.3 460.8 1438.0 461.8 1437.8 462.8 1437.5 463.8 1437.3 464.8 1437.0 465.8 1436.7 466.8 1436.5 467.8 1436.2 468.8 1435.9 469.8 1435.6 470.8 1435.3 471.8 1435.1 472.8 1434.8 473.8 1434.5 474.8 1434.2 475.8 1433.9 476.8 1433.6 477.8 1433.3 478.8 1433.0 479.8 1432.7 480.8 1432.4 481.8 1432.1 482.8 1431.8 483.8 1431.5 484.8 1431.2 485.8 1430.8 486.8 1430.5 487.8 1430.2 488.8 1429.9 489.8 1429.5 490.8 1429.2 491.8 1428.9 492.8 1428.5 493.8 1428.2 494.8 1427.8 495.8 1427.5 496.8 1427.1 497.8 1426.8 498.8 1426.4 499.8 1426.0 500.8 1425.7 501.8 1425.3 502.8 1424.9 503.8 1424.6 504.8 1424.2 505.8 1423.8 506.8 1423.4 507.8 1423.0 508.8 1422.6 509.8 1422.2 510.8 1421.8 511.8 1421.4 512.8 1421.0 513.8 1420.6 514.8 1420.1 515.8 1419.7 516.8 1419.3 517.8 1418.8 518.8 1418.4 519.8 1417.9 520.8 1417.5 521.8 1417.0 522.8 1416.6 523.8 1416.1 524.8 1415.7 525.8 1415.2 526.8 1414.7 527.8 1414.2 528.8 1413.7 529.8 1413.2 530.8 1412.7 531.8 1412.2 532.8 1411.7 533.8 1411.2 534.8 1410.7 535.8 1410.1 536.8 1409.6 537.8 1409.1 538.8 1408.5 539.8 1408.0 540.8 1407.4 541.8 1406.8 542.8 1406.3 543.8 1405.7 544.8 1405.1 545.8 1404.5 546.8 1403.9 547.8 1403.3 548.8 1402.7 549.8 1402.1 550.8 1401.4 551.8 1400.8 552.8 1400.1 553.8 1399.5 554.8 1398.8 555.8 1398.1 556.8 1397.5 557.8 1396.8 558.8 1396.1 559.8 1395.4 560.8 1394.6 561.8 1393.9 562.8 1393.2 563.8 1392.4 564.8 1391.6 565.8 1390.9 566.8 1390.1 567.8 1389.3 568.8 1388.4 569.8 1387.6 570.8 1386.8 571.8 1385.9 572.8 1385.0 573.8 1384.1 574.8 1383.2 575.8 1382.3 576.8 1381.4 577.8 1380.4 578.8 1379.4 579.8 1378.4 580.8 1377.4 581.8 1376.4 582.8 1375.3 583.8 1374.3 584.8 1373.2 585.8 1372.0 586.8 1370.9 587.8 1369.7 588.8 1368.5 589.8 1367.3 590.8 1366.0 591.8 1364.8 592.8 1363.4 593.8 1362.1 594.8 1360.7 595.8 1359.3 596.8 1357.9 597.8 1356.4 598.8 1354.9 599.8 1353.3 600.8 1351.7 601.8 1350.1 602.8 1348.4 603.8 1346.7 604.8 1345.0 605.8 1343.2 606.8 1341.3 607.8 1339.4 608.8 1337.5 609.8 1335.5 610.8 1333.5 611.8 1331.4 612.8 1329.3 613.8 1327.1 614.8 1324.9 615.8 1322.6 616.8 1320.2 617.8 1317.8 618.8 1315.4 619.8 1312.9 620.8 1310.3 621.8 1307.7 622.8 1305.0 623.8 1302.2 624.8 1299.4 625.8 1296.6 626.8 1293.6 627.8 1290.7 628.8 1287.6 629.8 1284.5 630.8 1281.4 631.8 1278.1 632.8 1274.9 633.8 1271.5 634.8 1268.1 635.8 1264.7 636.8 1261.2 637.8 1257.6 638.8 1254.0 639.8 1250.4 640.8 1246.7 641.8 1242.9 642.8 1239.1 643.8 1235.3 644.8 1231.4 645.8 1227.5 646.8 1223.5 647.8 1219.5 648.8 1215.5 649.8 1211.5 650.8 1207.4 651.8 1203.3 652.8 1199.2 653.8 1195.1 654.8 1190.9 655.8 1186.8 656.8 1182.6 657.8 1178.5 658.8 1174.3 659.8 1170.2 660.8 1166.1 661.8 1162.0 662.8 1157.9 663.8 1153.8 664.8 1149.8 665.8 1145.8 666.8 1141.9 667.8 1138.0 668.8 1134.2 669.8 1130.4 670.8 1126.7 671.8 1123.1 672.8 1119.6 673.8 1116.1 674.8 1112.7 675.8 1109.4 676.8 1106.3 677.8 1103.2 678.8 1100.2 679.8 1097.3 680.8 1094.6 681.8 1091.9 682.8 1089.4 683.8 1087.0 684.8 1084.8 685.8 1082.6 686.8 1080.6 687.8 1078.7 688.8 1077.0 689.8 1075.3 690.8 1073.8 691.8 1072.5 692.8 1071.2 693.8 1070.1 694.8 1069.1 695.8 1068.2 696.8 1067.4 697.8 1066.7 698.8 1066.1 699.8 1065.6 700.8 1065.2 701.8 1064.9 702.8 1064.7 703.8 1064.5 704.8 1064.5 705.8 1064.5 706.8 1064.5 707.8 1064.6 708.8 1064.8 709.8 1065.0 710.8 1065.2 711.8 1065.5 712.8 1065.8 713.8 1066.1 714.8 1066.5 715.8 1066.8 716.8 1067.2 717.8 1067.6 718.8 1068.0 719.8 1068.4 720.8 1068.7 721.8 1069.1 722.8 1069.5 723.8 1069.8 724.8 1070.1 725.8 1070.4 726.8 1070.7 727.8 1070.9 728.8 1071.1 729.8 1071.3 730.8 1071.4 731.8 1071.5 732.8 1071.6 733.8 1071.6 734.8 1071.5 735.8 1071.5 736.8 1071.3 737.8 1071.1 738.8 1070.9 739.8 1070.6 740.8 1070.3 741.8 1069.9 742.8 1069.5 743.8 1069.0 744.8 1068.4 745.8 1067.8 746.8 1067.2 747.8 1066.5 748.8 1065.7 749.8 1064.9 750.8 1064.0 751.8 1063.1 752.8 1062.1 753.8 1061.0 754.8 1059.9 755.8 1058.8 756.8 1057.6 757.8 1056.3 758.8 1055.0 759.8 1053.6 760.8 1052.2 761.8 1050.7 762.8 1049.2 763.8 1047.6 764.8 1046.0 765.8 1044.3 766.8 1042.6 767.8 1040.9 768.8 1039.0 769.8 1037.2 770.8 1035.3 771.8 1033.3 772.8 1031.3 773.8 1029.2 774.8 1027.1 775.8 1025.0 776.8 1022.8 777.8 1020.5 778.8 1018.2 779.8 1015.9 780.8 1013.4 781.8 1011.0 782.8 1008.5 783.8 1005.9 784.8 1003.3 785.8 1000.6 786.8 997.8 787.8 995.0 788.8 992.1 789.8 989.2 790.8 986.1 791.8 983.0 792.8 979.9 793.8 976.6 794.8 973.3 795.8 969.8 796.8 966.3 797.8 962.7 798.8 959.0 799.8 955.1 800.8 951.2 801.8 947.1 802.8 943.0 803.8 938.7 804.8 934.2 805.8 929.6 806.8 924.9 807.8 920.1 808.8 915.0 809.8 909.8 810.8 904.5 811.8 899.0 812.8 893.3 813.8 887.4 814.8 881.3 815.8 875.0 816.8 868.5 817.8 861.8 818.8 854.9 819.8 847.7 820.8 840.4 821.8 832.8 822.8 824.9 823.8 816.8 824.8 808.5 825.8 799.9 826.8 791.1 827.8 782.0 828.8 772.6 829.8 763.0 830.8 753.1 831.8 742.9 832.8 732.4 833.8 721.7 834.8 710.7 835.8 699.5 836.8 688.0 837.8 676.2 838.8 664.1 839.8 651.8 840.8 639.3 841.8 626.5 842.8 613.4 843.8 600.2 844.8 586.7 845.8 573.0 846.8 559.1 847.8 545.0 848.8 530.8 849.8 516.4 850.8 501.8 851.8 487.2 852.8 472.5 853.8 457.7 854.8 442.8 855.8 428.0 856.8 413.1 857.8 398.4 858.8 383.7 859.8 369.1 860.8 354.7 861.8 340.4 862.8 326.5 863.8 312.8 864.8 299.4 865.8 286.5 866.8 274.0 867.8 261.9 868.8 250.5 869.8 239.6 870.8 229.4 871.8 219.9 872.8 211.1 873.8 203.2 874.8 196.1 875.8 189.9 876.8 184.7 877.8 180.5 878.8 177.2 879.8 175.0 880.8 173.8 881.8 173.6 882.8 174.6 883.8 176.5 884.8 179.6 885.8 183.6 886.8 188.6 887.8 194.6 888.8 201.5 889.8 209.4 890.8 218.0 891.8 227.5 892.8 237.7 893.8 248.5 894.8 260.1 895.8 272.2 896.8 284.9 897.8 298.0 898.8 311.6 899.8 325.6 900.8 339.9 901.8 354.5 902.8 369.4 903.8 384.5 904.8 399.9 905.8 415.3 906.8 431.0 907.8 446.7 908.8 462.5 909.8 478.3 910.8 494.2 911.8 510.0 912.8 525.9 913.8 541.7 914.8 557.4 915.8 573.0 916.8 588.6 917.8 604.0 918.8 619.3 919.8 634.4 920.8 649.3 921.8 664.0 922.8 678.5 923.8 692.8 924.8 706.9 925.8 720.7 926.8 734.2 927.8 747.5 928.8 760.5 929.8 773.2 930.8 785.6 931.8 797.8 932.8 809.6 933.8 821.1 934.8 832.3 935.8 843.3 936.8 853.9 937.8 864.2 938.8 874.2 939.8 883.9 940.8 893.3 941.8 902.4 942.8 911.2 943.8 919.7 944.8 927.9 945.8 935.9 946.8 943.5 947.8 950.9 948.8 958.1 949.8 964.9 950.8 971.6 951.8 978.0 952.8 984.1 953.8 990.0 954.8 995.7 955.8 1001.2 956.8 1006.4 957.8 1011.5 958.8 1016.3 959.8 1020.9 960.8 1025.4 961.8 1029.7 962.8 1033.8 963.8 1037.8 964.8 1041.5 965.8 1045.2 966.8 1048.6 967.8 1052.0 968.8 1055.2 969.8 1058.2 970.8 1061.2 971.8 1064.0 972.8 1066.7 973.8 1069.3 974.8 1071.8 975.8 1074.1 976.8 1076.4 977.8 1078.6 978.8 1080.7 979.8 1082.7 980.8 1084.7 981.8 1086.5 982.8 1088.3 983.8 1090.0 984.8 1091.6 985.8 1093.2 986.8 1094.7 987.8 1096.1 988.8 1097.5 989.8 1098.9 990.8 1100.1 991.8 1101.4 992.8 1102.5 993.8 1103.7 994.8 1104.8 995.8 1105.8 996.8 1106.8 997.8 1107.8 998.8 1108.7 999.8 1109.6 1000.8 1110.4 1001.8 1111.2 1002.8 1112.0 1003.8 1112.8 1004.8 1113.5 1005.8 1114.2 1006.8 1114.8 1007.8 1115.4 1008.8 1116.0 1009.8 1116.6 1010.8 1117.2 1011.8 1117.7 1012.8 1118.2 1013.8 1118.6 1014.8 1119.1 1015.8 1119.5 1016.8 1119.9 1017.8 1120.3 1018.8 1120.7 1019.8 1121.0 1020.8 1121.3 1021.8 1121.6 1022.8 1121.9 1023.8 1122.2 1024.8 1122.4 1025.8 1122.7 1026.8 1122.9 1027.8 1123.1 1028.8 1123.2 1029.8 1123.4 1030.8 1123.5 1031.8 1123.7 1032.8 1123.8 1033.8 1123.9 1034.8 1124.0 1035.8 1124.0 1036.8 1124.1 1037.8 1124.1 1038.8 1124.2 1039.8 1124.2 1040.8 1124.2 1041.8 1124.2 1042.8 1124.2 1043.8 1124.1 1044.8 1124.1 1045.8 1124.0 1046.8 1124.0 1047.8 1123.9 1048.8 1123.8 1049.8 1123.7 1050.8 1123.6 1051.8 1123.5 1052.8 1123.3 1053.8 1123.2 1054.8 1123.1 1055.8 1122.9 1056.8 1122.7 1057.8 1122.6 1058.8 1122.4 1059.8 1122.2 1060.8 1122.0 1061.8 1121.8 1062.8 1121.6 1063.8 1121.4 1064.8 1121.1 1065.8 1120.9 1066.8 1120.7 1067.8 1120.4 1068.8 1120.2 1069.8 1119.9 1070.8 1119.7 1071.8 1119.4 1072.8 1119.1 1073.8 1118.8 1074.8 1118.6 1075.8 1118.3 1076.8 1118.0 1077.8 1117.7 1078.8 1117.4 1079.8 1117.1 1080.8 1116.8 1081.8 1116.5 1082.8 1116.2 1083.8 1115.9 1084.8 1115.5 1085.8 1115.2 1086.8 1114.9 1087.8 1114.6 1088.8 1114.3 1089.8 1113.9 1090.8 1113.6 1091.8 1113.3 1092.8 1112.9 1093.8 1112.6 1094.8 1112.3 1095.8 1111.9 1096.8 1111.6 1097.8 1111.3 1098.8 1110.9 1099.8 1110.6 1100.8 1110.3 1101.8 1109.9 1102.8 1109.6 1103.8 1109.3 1104.8 1108.9 1105.8 1108.6 1106.8 1108.3 1107.8 1107.9 1108.8 1107.6 1109.8 1107.3 1110.8 1107.0 1111.8 1106.7 1112.8 1106.3 1113.8 1106.0 1114.8 1105.7 1115.8 1105.4 1116.8 1105.1 1117.8 1104.8 1118.8 1104.5 1119.8 1104.2 1120.8 1103.9 1121.8 1103.6 1122.8 1103.3 1123.8 1103.0 1124.8 1102.7 1125.8 1102.4 1126.8 1102.2 1127.8 1101.9 1128.8 1101.6 1129.8 1101.4 1130.8 1101.1 1131.8 1100.8 1132.8 1100.6 1133.8 1100.3 1134.8 1100.1 1135.8 1099.9 1136.8 1099.6 1137.8 1099.4 1138.8 1099.2 1139.8 1099.0 1140.8 1098.8 1141.8 1098.6 1142.8 1098.4 1143.8 1098.2 1144.8 1098.0 1145.8 1097.8 1146.8 1097.7 1147.8 1097.5 1148.8 1097.4 1149.8 1097.2 1150.8 1097.1 1151.8 1096.9 1152.8 1096.8 1153.8 1096.7 1154.8 1096.6 1155.8 1096.4 1156.8 1096.3 1157.8 1096.3 1158.8 1096.2 1159.8 1096.1 1160.8 1096.0 1161.8 1095.9 1162.8 1095.9 1163.8 1095.8 1164.8 1095.8 1165.8 1095.8 1166.8 1095.7 1167.8 1095.7 1168.8 1095.7 1169.8 1095.7 1170.8 1095.7 1171.8 1095.7 1172.8 1095.8 1173.8 1095.8 1174.8 1095.8 1175.8 1095.9 1176.8 1096.0 1177.8 1096.0 1178.8 1096.1 1179.8 1096.2 1180.8 1096.3 1181.8 1096.4 1182.8 1096.5 1183.8 1096.6 1184.8 1096.7 1185.8 1096.9 1186.8 1097.0 1187.8 1097.2 1188.8 1097.3 1189.8 1097.5 1190.8 1097.7 1191.8 1097.9 1192.8 1098.1 1193.8 1098.3 1194.8 1098.5 1195.8 1098.8 1196.8 1099.0 1197.8 1099.2 1198.8 1099.5 1199.8 1099.8 1200.8 1100.0 1201.8 1100.3 1202.8 1100.6 1203.8 1100.9 1204.8 1101.2 1205.8 1101.6 1206.8 1101.9 1207.8 1102.2 1208.8 1102.6 1209.8 1103.0 1210.8 1103.3 1211.8 1103.7 1212.8 1104.1 1213.8 1104.5 1214.8 1104.9 1215.8 1105.3 1216.8 1105.7 1217.8 1106.2 1218.8 1106.6 1219.8 1107.1 1220.8 1107.5 1221.8 1108.0 1222.8 1108.5 1223.8 1109.0 1224.8 1109.5 1225.8 1110.0 1226.8 1110.5 1227.8 1111.0 1228.8 1111.6 1229.8 1112.1 1230.8 1112.7 1231.8 1113.3 1232.8 1113.8 1233.8 1114.4 1234.8 1115.0 1235.8 1115.6 1236.8 1116.2 1237.8 1116.8 1238.8 1117.5 1239.8 1118.1 1240.8 1118.7 1241.8 1119.4 1242.8 1120.1 1243.8 1120.7 1244.8 1121.4 1245.8 1122.1 1246.8 1122.8 1247.8 1123.5 1248.8 1124.2 1249.8 1124.9 1250.8 1125.7 1251.8 1126.4 1252.8 1127.1 1253.8 1127.9 1254.8 1128.7 1255.8 1129.4 1256.8 1130.2 1257.8 1131.0 1258.8 1131.8 1259.8 1132.6 1260.8 1133.4 1261.8 1134.2 1262.8 1135.1 1263.8 1135.9 1264.8 1136.7 1265.8 1137.6 1266.8 1138.4 1267.8 1139.3 1268.8 1140.2 1269.8 1141.0 1270.8 1141.9 1271.8 1142.8 1272.8 1143.7 1273.8 1144.6 1274.8 1145.5 1275.8 1146.4 1276.8 1147.4 1277.8 1148.3 1278.8 1149.2 1279.8 1150.2 1280.8 1151.1 1281.8 1152.1 1282.8 1153.1 1283.8 1154.0 1284.8 1155.0 1285.8 1156.0 1286.8 1157.0 1287.8 1158.0 1288.8 1159.0 1289.8 1160.0 1290.8 1161.0 1291.8 1162.0 1292.8 1163.0 1293.8 1164.0 1294.8 1165.1 1295.8 1166.1 1296.8 1167.1 1297.8 1168.2 1298.8 1169.2 1299.8 1170.3 1300.8 1171.4 1301.8 1172.4 1302.8 1173.5 1303.8 1174.6 1304.8 1175.7 1305.8 1176.7 1306.8 1177.8 1307.8 1178.9 1308.8 1180.0 1309.8 1181.1 1310.8 1182.2 1311.8 1183.3 1312.8 1184.4 1313.8 1185.6 1314.8 1186.7 1315.8 1187.8 1316.8 1188.9 1317.8 1190.0 1318.8 1191.2 1319.8 1192.3 1320.8 1193.5 1321.8 1194.6 1322.8 1195.7 1323.8 1196.9 1324.8 1198.0 1325.8 1199.2 1326.8 1200.3 1327.8 1201.5 1328.8 1202.7 1329.8 1203.8 1330.8 1205.0 1331.8 1206.1 1332.8 1207.3 1333.8 1208.5 1334.8 1209.7 1335.8 1210.8 1336.8 1212.0 1337.8 1213.2 1338.8 1214.4 1339.8 1215.5 1340.8 1216.7 1341.8 1217.9 1342.8 1219.1 1343.8 1220.3 1344.8 1221.4 1345.8 1222.6 1346.8 1223.8 1347.8 1225.0 1348.8 1226.2 1349.8 1227.4 1350.8 1228.6 1351.8 1229.8 1352.8 1230.9 1353.8 1232.1 1354.8 1233.3 1355.8 1234.5 1356.8 1235.7 1357.8 1236.9 1358.8 1238.1 1359.8 1239.3 1360.8 1240.5 1361.8 1241.7 1362.8 1242.8 1363.8 1244.0 1364.8 1245.2 1365.8 1246.4 1366.8 1247.6 1367.8 1248.8 1368.8 1250.0 1369.8 1251.1 1370.8 1252.3 1371.8 1253.5 1372.8 1254.7 1373.8 1255.8 1374.8 1257.0 1375.8 1258.2 1376.8 1259.4 1377.8 1260.5 1378.8 1261.7 1379.8 1262.9 1380.8 1264.0 1381.8 1265.2 1382.8 1266.4 1383.8 1267.5 1384.8 1268.7 1385.8 1269.8 1386.8 1271.0 1387.8 1272.2 1388.8 1273.3 1389.8 1274.4 1390.8 1275.6 1391.8 1276.7 1392.8 1277.9 1393.8 1279.0 1394.8 1280.1 1395.8 1281.3 1396.8 1282.4 1397.8 1283.5 1398.8 1284.7 1399.8 1285.8 1400.8 1286.9 1401.8 1288.0 1402.8 1289.1 1403.8 1290.2 1404.8 1291.3 1405.8 1292.4 1406.8 1293.5 1407.8 1294.6 1408.8 1295.7 1409.8 1296.8 1410.8 1297.9 1411.8 1299.0 1412.8 1300.0 1413.8 1301.1 1414.8 1302.2 1415.8 1303.2 1416.8 1304.3 1417.8 1305.4 1418.8 1306.4 1419.8 1307.5 1420.8 1308.5 1421.8 1309.6 1422.8 1310.6 1423.8 1311.6 1424.8 1312.7 1425.8 1313.7 1426.8 1314.7 1427.8 1315.7 1428.8 1316.7 1429.8 1317.8 1430.8 1318.8 1431.8 1319.8 1432.8 1320.8 1433.8 1321.7 1434.8 1322.7 1435.8 1323.7 1436.8 1324.7 1437.8 1325.7 1438.8 1326.6 1439.8 1327.6 1440.8 1328.6 1441.8 1329.5 1442.8 1330.5 1443.8 1331.4 1444.8 1332.4 1445.8 1333.3 1446.8 1334.2 1447.8 1335.2 1448.8 1336.1 1449.8 1337.0 1450.8 1337.9 1451.8 1338.8 1452.8 1339.7 1453.8 1340.6 1454.8 1341.5 1455.8 1342.4 1456.8 1343.3 1457.8 1344.2 1458.8 1345.0 1459.8 1345.9 1460.8 1346.8 1461.8 1347.6 1462.8 1348.5 1463.8 1349.3 1464.8 1350.2 1465.8 1351.0 1466.8 1351.8 1467.8 1352.7 1468.8 1353.5 1469.8 1354.3 1470.8 1355.1 1471.8 1355.9 1472.8 1356.7 1473.8 1357.5 1474.8 1358.3 1475.8 1359.1 1476.8 1359.9 1477.8 1360.7 1478.8 1361.4 1479.8 1362.2 1480.8 1363.0 1481.8 1363.7 1482.8 1364.5 1483.8 1365.2 1484.8 1366.0 1485.8 1366.7 1486.8 1367.4 1487.8 1368.2 1488.8 1368.9 1489.8 1369.6 1490.8 1370.3 1491.8 1371.0 1492.8 1371.7 1493.8 1372.4 1494.8 1373.1 1495.8 1373.8 1496.8 1374.5 1497.8 1375.2 1498.8 1375.8 1499.8 1376.5 1500.8 1377.2 1501.8 1377.8 1502.8 1378.5 1503.8 1379.1 1504.8 1379.7 1505.8 1380.4 1506.8 1381.0 1507.8 1381.6 1508.8 1382.3 1509.8 1382.9 1510.8 1383.5 1511.8 1384.1 1512.8 1384.7 1513.8 1385.3 1514.8 1385.9 1515.8 1386.5 1516.8 1387.1 1517.8 1387.6 1518.8 1388.2 1519.8 1388.8 1520.8 1389.3 1521.8 1389.9 1522.8 1390.5 1523.8 1391.0 1524.8 1391.5 1525.8 1392.1 1526.8 1392.6 1527.8 1393.2 1528.8 1393.7 1529.8 1394.2 1530.8 1394.7 1531.8 1395.2 1532.8 1395.7 1533.8 1396.2 1534.8 1396.7 1535.8 1397.2 1536.8 1397.7 1537.8 1398.2 1538.8 1398.7 1539.8 1399.2 1540.8 1399.6 1541.8 1400.1 1542.8 1400.6 1543.8 1401.0 1544.8 1401.5 1545.8 1401.9 1546.8 1402.4 1547.8 1402.8 1548.8 1403.3 1549.8 1403.7 1550.8 1404.1 1551.8 1404.6 1552.8 1405.0 1553.8 1405.4 1554.8 1405.8 1555.8 1406.2 1556.8 1406.6 1557.8 1407.0 1558.8 1407.4 1559.8 1407.8 1560.8 1408.2 1561.8 1408.6 1562.8 1409.0 1563.8 1409.3 1564.8 1409.7 1565.8 1410.1 1566.8 1410.5 1567.8 1410.8 1568.8 1411.2 1569.8 1411.5 1570.8 1411.9 1571.8 1412.2 1572.8 1412.6 1573.8 1412.9 1574.8 1413.3 1575.8 1413.6 1576.8 1413.9 1577.8 1414.3 1578.8 1414.6 1579.8 1414.9 1580.8 1415.2 1581.8 1415.5 1582.8 1415.8 1583.8 1416.1 1584.8 1416.5 1585.8 1416.8 1586.8 1417.0 1587.8 1417.3 1588.8 1417.6 1589.8 1417.9 1590.8 1418.2 1591.8 1418.5 1592.8 1418.8 1593.8 1419.0 1594.8 1419.3 1595.8 1419.6 1596.8 1419.8 1597.8 1420.1 1598.8 1420.4 1599.8 1420.6 1600.8 1420.9 1601.8 1421.1 1602.8 1421.4 1603.8 1421.6 1604.8 1421.9 1605.8 1422.1 1606.8 1422.4 1607.8 1422.6 1608.8 1422.8 1609.8 1423.0 1610.8 1423.3 1611.8 1423.5 1612.8 1423.7 1613.8 1423.9 1614.8 1424.2 1615.8 1424.4 1616.8 1424.6 1617.8 1424.8 1618.8 1425.0 1619.8 1425.2 1620.8 1425.4 1621.8 1425.6 1622.8 1425.8 1623.8 1426.0 1624.8 1426.2 1625.8 1426.4 1626.8 1426.6 1627.8 1426.7 1628.8 1426.9 1629.8 1427.1 1630.8 1427.3 1631.8 1427.5 1632.8 1427.6 1633.8 1427.8 1634.8 1428.0 1635.8 1428.2 1636.8 1428.3 1637.8 1428.5 1638.8 1428.6 1639.8 1428.8 1640.8 1429.0 1641.8 1429.1 1642.8 1429.3 1643.8 1429.4 1644.8 1429.6 1645.8 1429.7 1646.8 1429.9 1647.8 1430.0 1648.8 1430.2 1649.8 1430.3 1650.8 1430.4 1651.8 1430.6 1652.8 1430.7 1653.8 1430.9 1654.8 1431.0 1655.8 1431.1 1656.8 1431.2 1657.8 1431.4 1658.8 1431.5 1659.8 1431.6 1660.8 1431.8 1661.8 1431.9 1662.8 1432.0 1663.8 1432.1 1664.8 1432.2 1665.8 1432.3 1666.8 1432.5 1667.8 1432.6 1668.8 1432.7 1669.8 1432.8 1670.8 1432.9 1671.8 1433.0 1672.8 1433.1 1673.8 1433.2 1674.8 1433.3 1675.8 1433.4 1676.8 1433.5 1677.8 1433.6 1678.8 1433.7 1679.8 1433.8 1680.8 1433.9 1681.8 1434.0 1682.8 1434.1 1683.8 1434.2 1684.8 1434.3 1685.8 1434.4 1686.8 1434.5 1687.8 1434.6 1688.8 1434.6 1689.8 1434.7 1690.8 1434.8 1691.8 1434.9 1692.8 1435.0 1693.8 1435.1 1694.8 1435.1 1695.8 1435.2 1696.8 1435.3 1697.8 1435.4 1698.8 1435.4 1699.8 1435.5 1700.8 1435.6 1701.8 1435.7 1702.8 1435.7 1703.8 1435.8 1704.8 1435.9 1705.8 1436.0 1706.8 1436.0 1707.8 1436.1 1708.8 1436.2 1709.8 1436.2 1710.8 1436.3 1711.8 1436.4 1712.8 1436.4 1713.8 1436.5 1714.8 1436.5 1715.8 1436.6 1716.8 1436.7 1717.8 1436.7 1718.8 1436.8 1719.8 1436.9 1720.8 1436.9 1721.8 1437.0 1722.8 1437.0 1723.8 1437.1 1724.8 1437.1 1725.8 1437.2 1726.8 1437.2 1727.8 1437.3 1728.8 1437.4 1729.8 1437.4 1730.8 1437.5 1731.8 1437.5 1732.8 1437.6 1733.8 1437.6 1734.8 1437.7 1735.8 1437.7 1736.8 1437.8 1737.8 1437.8 1738.8 1437.8 1739.8 1437.9 1740.8 1437.9 1741.8 1438.0 1742.8 1438.0 1743.8 1438.1 1744.8 1438.1 1745.8 1438.2 1746.8 1438.2 1747.8 1438.3 1748.8 1438.3 1749.8 1438.3 1750.8 1438.4 1751.8 1438.4 1752.8 1438.5 1753.8 1438.5 1754.8 1438.5 1755.8 1438.6 1756.8 1438.6 1757.8 1438.7 1758.8 1438.7 1759.8 1438.7 1760.8 1438.8 1761.8 1438.8 1762.8 1438.8 1763.8 1438.9 1764.8 1438.9 1765.8 1439.0 1766.8 1439.0 1767.8 1439.0 1768.8 1439.1 1769.8 1439.1 1770.8 1439.1 1771.8 1439.2 1772.8 1439.2 1773.8 1439.2 1774.8 1439.3 1775.8 1439.3 1776.8 1439.3 1777.8 1439.4 1778.8 1439.4 1779.8 1439.4 1780.8 1439.5 1781.8 1439.5 1782.8 1439.5 1783.8 1439.5 1784.8 1439.6 1785.8 1439.6 1786.8 1439.6 1787.8 1439.7 1788.8 1439.7 1789.8 1439.7 1790.8 1439.8 1791.8 1439.8 1792.8 1439.8 1793.8 1439.8 1794.8 1439.9 1795.8 1439.9 1796.8 1439.9 1797.8 1439.9 1798.8 1440.0 1799.8 1440.0 1800.8 1440.0 1801.8 1440.1 1802.8 1440.1 1803.8 1440.1 1804.8 1440.1 1805.8 1440.2 1806.8 1440.2 1807.8 1440.2 1808.8 1440.2 1809.8 1440.3 1810.8 1440.3 1811.8 1440.3 1812.8 1440.3 1813.8 1440.4 1814.8 1440.4 1815.8 1440.4 1816.8 1440.4 1817.8 1440.5 1818.8 1440.5 1819.8 1440.5 1820.8 1440.5 1821.8 1440.6 1822.8 1440.6 1823.8 1440.6 1824.8 1440.6 1825.8 1440.7 1826.8 1440.7 1827.8 1440.7 1828.8 1440.7 1829.8 1440.8 1830.8 1440.8 1831.8 1440.8 1832.8 1440.8 1833.8 1440.8 1834.8 1440.9 1835.8 1440.9 1836.8 1440.9 1837.8 1440.9 1838.8 1441.0 1839.8 1441.0 1840.8 1441.0 1841.8 1441.0 1842.8 1441.1 1843.8 1441.1 1844.8 1441.1 1845.8 1441.1 1846.8 1441.1 1847.8 1441.2 1848.8 1441.2 1849.8 1441.2 1850.8 1441.2 1851.8 1441.3 1852.8 1441.3 1853.8 1441.3 1854.8 1441.3 1855.8 1441.3 1856.8 1441.4 1857.8 1441.4 1858.8 1441.4 1859.8 1441.4 1860.8 1441.4 1861.8 1441.5 1862.8 1441.5 1863.8 1441.5 1864.8 1441.5 1865.8 1441.6 1866.8 1441.6 1867.8 1441.6 1868.8 1441.6 1869.8 1441.6 1870.8 1441.7 1871.8 1441.7 1872.8 1441.7 1873.8 1441.7 1874.8 1441.7 1875.8 1441.8 1876.8 1441.8 1877.8 1441.8 1878.8 1441.8 1879.8 1441.9 1880.8 1441.9 1881.8 1441.9 1882.8 1441.9 1883.8 1441.9 1884.8 1442.0 1885.8 1442.0 1886.8 1442.0 1887.8 1442.0 1888.8 1442.0 1889.8 1442.1 1890.8 1442.1 1891.8 1442.1 1892.8 1442.1 1893.8 1442.1 1894.8 1442.2 1895.8 1442.2 1896.8 1442.2 1897.8 1442.2 1898.8 1442.2 1899.8 1442.3 1900.8 1442.3 1901.8 1442.3 1902.8 1442.3 1903.8 1442.4 1904.8 1442.4 1905.8 1442.4 1906.8 1442.4 1907.8 1442.4 1908.8 1442.5 1909.8 1442.5 1910.8 1442.5 1911.8 1442.5 1912.8 1442.5 1913.8 1442.6 1914.8 1442.6 1915.8 1442.6 1916.8 1442.6 1917.8 1442.6 1918.8 1442.7 1919.8 1442.7 1920.8 1442.7 1921.8 1442.7 1922.8 1442.8 1923.8 1442.8 1924.8 1442.8 1925.8 1442.8 1926.8 1442.8 1927.8 1442.9 1928.8 1442.9 1929.8 1442.9 1930.8 1442.9 1931.8 1442.9 1932.8 1443.0 1933.8 1443.0 1934.8 1443.0 1935.8 1443.0 1936.8 1443.0 1937.8 1443.1 1938.8 1443.1 1939.8 1443.1 1940.8 1443.1 1941.8 1443.2 1942.8 1443.2 1943.8 1443.2 1944.8 1443.2 1945.8 1443.2 1946.8 1443.3 1947.8 1443.3 1948.8 1443.3 1949.8 1443.3 1950.8 1443.3 1951.8 1443.4 1952.8 1443.4 1953.8 1443.4 1954.8 1443.4 1955.8 1443.5 1956.8 1443.5 1957.8 1443.5 1958.8 1443.5 1959.8 1443.5 1960.8 1443.6 1961.8 1443.6 1962.8 1443.6 1963.8 1443.6 1964.8 1443.6 1965.8 1443.7 1966.8 1443.7 1967.8 1443.7 1968.8 1443.7 1969.8 1443.8 1970.8 1443.8 1971.8 1443.8 1972.8 1443.8 1973.8 1443.8 1974.8 1443.9 1975.8 1443.9 1976.8 1443.9 1977.8 1443.9 1978.8 1444.0 1979.8 1444.0 1980.8 1444.0 1981.8 1444.0 1982.8 1444.0 1983.8 1444.1 1984.8 1444.1 1985.8 1444.1 1986.8 1444.1 1987.8 1444.2 1988.8 1444.2 1989.8 1444.2 1990.8 1444.2 1991.8 1444.2 1992.8 1444.3 1993.8 1444.3 1994.8 1444.3 1995.8 1444.3 1996.8 1444.4 1997.8 1444.4 1998.8 1444.4 1999.8 1444.4 2000.8 1444.4 2001.8 1444.5 2002.8 1444.5 2003.8 1444.5 2004.8 1444.5 2005.8 1444.6 2006.8 1444.6 2007.8 1444.6 2008.8 1444.6 2009.8 1444.7 2010.8 1444.7 2011.8 1444.7 2012.8 1444.7 2013.8 1444.7 2014.8 1444.8 2015.8 1444.8 2016.8 1444.8 2017.8 1444.8 2018.8 1444.9 2019.8 1444.9 2020.8 1444.9 2021.8 1444.9 2022.8 1445.0 2023.8 1445.0 2024.8 1445.0 2025.8 1445.0 2026.8 1445.0 2027.8 1445.1 2028.8 1445.1 2029.8 1445.1 2030.8 1445.1 2031.8 1445.2 2032.8 1445.2 2033.8 1445.2 2034.8 1445.2 2035.8 1445.3 2036.8 1445.3 2037.8 1445.3 2038.8 1445.3 2039.8 1445.3 2040.8 1445.4 2041.8 1445.4 2042.8 1445.4 2043.8 1445.4 2044.8 1445.5 2045.8 1445.5 2046.8 1445.5 2047.8 1445.5 2048.8 1445.6 2049.8 1445.6 2050.8 1445.6 2051.8 1445.6 2052.8 1445.7 2053.8 1445.7 2054.8 1445.7 2055.8 1445.7 2056.8 1445.8 2057.8 1445.8 2058.8 1445.8 2059.8 1445.8 2060.8 1445.9 2061.8 1445.9 2062.8 1445.9 2063.8 1445.9 2064.8 1445.9 2065.8 1446.0 2066.8 1446.0 2067.8 1446.0 2068.8 1446.0 2069.8 1446.1 2070.8 1446.1 2071.8 1446.1 2072.8 1446.1 2073.8 1446.2 2074.8 1446.2 2075.8 1446.2 2076.8 1446.2 2077.8 1446.3 2078.8 1446.3 2079.8 1446.3 2080.8 1446.3 2081.8 1446.4 2082.8 1446.4 2083.8 1446.4 2084.8 1446.4 2085.8 1446.5 2086.8 1446.5 2087.8 1446.5 2088.8 1446.5 2089.8 1446.6 2090.8 1446.6 2091.8 1446.6 2092.8 1446.6 2093.8 1446.7 2094.8 1446.7 2095.8 1446.7 2096.8 1446.7 2097.8 1446.8 2098.8 1446.8 2099.8 1446.8 2100.8 1446.8 2101.8 1446.9 2102.8 1446.9 2103.8 1446.9 2104.8 1446.9 2105.8 1447.0 2106.8 1447.0 2107.8 1447.0 2108.8 1447.0 2109.8 1447.1 2110.8 1447.1 2111.8 1447.1 2112.8 1447.1 2113.8 1447.2 2114.8 1447.2 2115.8 1447.2 2116.8 1447.2 2117.8 1447.3 2118.8 1447.3 2119.8 1447.3 2120.8 1447.3 2121.8 1447.4 2122.8 1447.4 2123.8 1447.4 2124.8 1447.5 2125.8 1447.5 2126.8 1447.5 2127.8 1447.5 2128.8 1447.6 2129.8 1447.6 2130.8 1447.6 2131.8 1447.6 2132.8 1447.7 2133.8 1447.7 2134.8 1447.7 2135.8 1447.7 2136.8 1447.8 2137.8 1447.8 2138.8 1447.8 2139.8 1447.8 2140.8 1447.9 2141.8 1447.9 2142.8 1447.9 2143.8 1447.9 2144.8 1448.0 2145.8 1448.0 2146.8 1448.0 2147.8 1448.1 2148.8 1448.1 2149.8 1448.1 2150.8 1448.1 2151.8 1448.2 2152.8 1448.2 2153.8 1448.2 2154.8 1448.2 2155.8 1448.3 2156.8 1448.3 2157.8 1448.3 2158.8 1448.3 2159.8 1448.4 2160.8 1448.4 2161.8 1448.4 2162.8 1448.4 2163.8 1448.5 2164.8 1448.5 2165.8 1448.5 2166.8 1448.6 2167.8 1448.6 2168.8 1448.6 2169.8 1448.6 2170.8 1448.7 2171.8 1448.7 2172.8 1448.7 2173.8 1448.7 2174.8 1448.8 2175.8 1448.8 2176.8 1448.8 2177.8 1448.9 2178.8 1448.9 2179.8 1448.9 2180.8 1448.9 2181.8 1449.0 2182.8 1449.0 2183.8 1449.0 2184.8 1449.0 2185.8 1449.1 2186.8 1449.1 2187.8 1449.1 2188.8 1449.2 2189.8 1449.2 2190.8 1449.2 2191.8 1449.2 2192.8 1449.3 2193.8 1449.3 2194.8 1449.3 2195.8 1449.3 2196.8 1449.4 2197.8 1449.4 2198.8 1449.4 2199.8 1449.5 2200.8 1449.5 2201.8 1449.5 2202.8 1449.5 2203.8 1449.6 2204.8 1449.6 2205.8 1449.6 2206.8 1449.6 2207.8 1449.7 2208.8 1449.7 2209.8 1449.7 2210.8 1449.8 2211.8 1449.8 2212.8 1449.8 2213.8 1449.8 2214.8 1449.9 2215.8 1449.9 2216.8 1449.9 2217.8 1450.0 2218.8 1450.0 2219.8 1450.0 2220.8 1450.0 2221.8 1450.1 2222.8 1450.1 2223.8 1450.1 2224.8 1450.1 2225.8 1450.2 2226.8 1450.2 2227.8 1450.2 2228.8 1450.3 2229.8 1450.3 2230.8 1450.3 2231.8 1450.3 2232.8 1450.4 2233.8 1450.4 2234.8 1450.4 2235.8 1450.5 2236.8 1450.5 2237.8 1450.5 2238.8 1450.5 2239.8 1450.6 2240.8 1450.6 2241.8 1450.6 2242.8 1450.7 2243.8 1450.7 2244.8 1450.7 2245.8 1450.7 2246.8 1450.8 2247.8 1450.8 2248.8 1450.8 2249.8 1450.9 2250.8 1450.9 2251.8 1450.9 2252.8 1450.9 2253.8 1451.0 2254.8 1451.0 2255.8 1451.0 2256.0 1451.0"/>
<path class="curve" stroke="#0000ff" d="M418.8 1463.5L419.8 1463.4 420.8 1463.4 421.8 1463.3 422.8 1463.2 423.8 1463.1 424.8 1463.0 425.8 1462.9 426.8 1462.8 427.8 1462.7 428.8 1462.6 429.8 1462.5 430.8 1462.4 431.8 1462.3 432.8 1462.2 433.8 1462.1 434.8 1462.0 435.8 1461.9 436.8 1461.8 437.8 1461.7 438.8 1461.6 439.8 1461.5 440.8 1461.4 441.8 1461.3 442.8 1461.2 443.8 1461.1 444.8 1461.0 445.8 1460.9 446.8 1460.8 447.8 1460.7 448.8 1460.5 449.8 1460.4 450.8 1460.3 451.8 1460.2 452.8 1460.1 453.8 1460.0 454.8 1459.9 455.8 1459.8 456.8 1459.7 457.8 1459.5 458.8 1459.4 459.8 1459.3 460.8 1459.2 461.8 1459.1 462.8 1459.0 463.8 1458.8 464.8 1458.7 465.8 1458.6 466.8 1458.5 467.8 1458.3 468.8 1458.2 469.8 1458.1 470.8 1458.0 471.8 1457.8 472.8 1457.7 473.8 1457.6 474.8 1457.5 475.8 1457.3 476.8 1457.2 477.8 1457.1 478.8 1456.9 479.8 1456.8 480.8 1456.7 481.8 1456.5 482.8 1456.4 483.8 1456.3 484.8 1456.1 485.8 1456.0 486.8 1455.8 487.8 1455.7 488.8 1455.6 489.8 1455.4 490.8 1455.3 491.8 1455.1 492.8 1455.0 493.8 1454.8 494.8 1454.7 495.8 1454.5 496.8 1454.4 497.8 1454.2 498.8 1454.0 499.8 1453.9 500.8 1453.7 501.8 1453.6 502.8 1453.4 503.8 1453.2 504.8 1453.1 505.8 1452.9 506.8 1452.7 507.8 1452.6 508.8 1452.4 509.8 1452.2 510.8 1452.1 511.8 1451.9 512.8 1451.7 513.8 1451.5 514.8 1451.3 515.8 1451.1 516.8 1451.0 517.8 1450.8 518.8 1450.6 519.8 1450.4 520.8 1450.2 521.8 1450.0 522.8 1449.8 523.8 1449.6 524.8 1449.4 525.8 1449.2 526.8 1449.0 527.8 1448.8 528.8 1448.6 529.8 1448.4 530.8 1448.1 531.8 1447.9 532.8 1447.7 533.8 1447.5 534.8 1447.3 535.8 1447.0 536.8 1446.8 537.8 1446.6 538.8 1446.3 539.8 1446.1 540.8 1445.8 541.8 1445.6 542.8 1445.3 543.8 1445.1 544.8 1444.8 545.8 1444.6 546.8 1444.3 547.8 1444.1 548.8 1443.8 549.8 1443.5 550.8 1443.2 551.8 1443.0 552.8 1442.7 553.8 1442.4 554.8 1442.1 555.8 1441.8 556.8 1441.5 557.8 1441.2 558.8 1440.9 559.8 1440.6 560.8 1440.3 561.8 1440.0 562.8 1439.7 563.8 1439.3 564.8 1439.0 565.8 1438.7 566.8 1438.3 567.8 1438.0 568.8 1437.6 569.8 1437.3 570.8 1436.9 571.8 1436.5 572.8 1436.2 573.8 1435.8 574.8 1435.4 575.8 1435.0 576.8 1434.6 577.8 1434.2 578.8 1433.8 579.8 1433.4 580.8 1433.0 581.8 1432.6 582.8 1432.1 583.8 1431.7 584.8 1431.2 585.8 1430.8 586.8 1430.3 587.8 1429.8 588.8 1429.4 589.8 1428.9 590.8 1428.4 591.8 1427.8 592.8 1427.3 593.8 1426.8 594.8 1426.2 595.8 1425.7 596.8 1425.1 597.8 1424.5 598.8 1423.9 599.8 1423.3 600.8 1422.7 601.8 1422.0 602.8 1421.4 603.8 1420.7 604.8 1420.0 605.8 1419.3 606.8 1418.5 607.8 1417.8 608.8 1417.0 609.8 1416.2 610.8 1415.4 611.8 1414.5 612.8 1413.6 613.8 1412.7 614.8 1411.8 615.8 1410.8 616.8 1409.8 617.8 1408.8 618.8 1407.7 619.8 1406.6 620.8 1405.4 621.8 1404.3 622.8 1403.0 623.8 1401.7 624.8 1400.4 625.8 1399.0 626.8 1397.6 627.8 1396.1 628.8 1394.6 629.8 1393.0 630.8 1391.4 631.8 1389.7 632.8 1387.9 633.8 1386.0 634.8 1384.1 635.8 1382.2 636.8 1380.1 637.8 1378.0 638.8 1375.8 639.8 1373.5 640.8 1371.2 641.8 1368.8 642.8 1366.3 643.8 1363.7 644.8 1361.0 645.8 1358.2 646.8 1355.4 647.8 1352.4 648.8 1349.4 649.8 1346.3 650.8 1343.0 651.8 1339.7 652.8 1336.3 653.8 1332.9 654.8 1329.3 655.8 1325.6 656.8 1321.9 657.8 1318.0 658.8 1314.1 659.8 1310.1 660.8 1306.0 661.8 1301.8 662.8 1297.5 663.8 1293.2 664.8 1288.8 665.8 1284.3 666.8 1279.7 667.8 1275.1 668.8 1270.5 669.8 1265.7 670.8 1261.0 671.8 1256.2 672.8 1251.3 673.8 1246.4 674.8 1241.5 675.8 1236.6 676.8 1231.7 677.8 1226.7 678.8 1221.8 679.8 1216.8 680.8 1211.9 681.8 1207.0 682.8 1202.1 683.8 1197.3 684.8 1192.5 685.8 1187.7 686.8 1183.1 687.8 1178.4 688.8 1173.9 689.8 1169.4 690.8 1165.0 691.8 1160.7 692.8 1156.5 693.8 1152.4 694.8 1148.4 695.8 1144.5 696.8 1140.8 697.8 1137.2 698.8 1133.7 699.8 1130.4 700.8 1127.2 701.8 1124.1 702.8 1121.2 703.8 1118.5 704.8 1115.9 705.8 1113.4 706.8 1111.2 707.8 1109.1 708.8 1107.1 709.8 1105.3 710.8 1103.7 711.8 1102.3 712.8 1101.0 713.8 1099.8 714.8 1098.9 715.8 1098.0 716.8 1097.4 717.8 1096.8 718.8 1096.5 719.8 1096.2 720.8 1096.2 721.8 1096.2 722.8 1096.4 723.8 1096.7 724.8 1097.1 725.8 1097.6 726.8 1098.2 727.8 1098.9 728.8 1099.7 729.8 1100.6 730.8 1101.6 731.8 1102.7 732.8 1103.8 733.8 1104.9 734.8 1106.1 735.8 1107.4 736.8 1108.7 737.8 1110.0 738.8 1111.3 739.8 1112.7 740.8 1114.1 741.8 1115.4 742.8 1116.8 743.8 1118.1 744.8 1119.4 745.8 1120.7 746.8 1122.0 747.8 1123.2 748.8 1124.4 749.8 1125.6 750.8 1126.7 751.8 1127.7 752.8 1128.7 753.8 1129.7 754.8 1130.5 755.8 1131.3 756.8 1132.1 757.8 1132.7 758.8 1133.3 759.8 1133.8 760.8 1134.2 761.8 1134.6 762.8 1134.8 763.8 1135.0 764.8 1135.1 765.8 1135.1 766.8 1135.1 767.8 1134.9 768.8 1134.7 769.8 1134.4 770.8 1134.0 771.8 1133.5 772.8 1132.9 773.8 1132.2 774.8 1131.5 775.8 1130.7 776.8 1129.8 777.8 1128.8 778.8 1127.7 779.8 1126.6 780.8 1125.4 781.8 1124.1 782.8 1122.7 783.8 1121.3 784.8 1119.7 785.8 1118.1 786.8 1116.4 787.8 1114.7 788.8 1112.8 789.8 1110.9 790.8 1108.9 791.8 1106.8 792.8 1104.6 793.8 1102.3 794.8 1100.0 795.8 1097.5 796.8 1095.0 797.8 1092.3 798.8 1089.6 799.8 1086.7 800.8 1083.7 801.8 1080.6 802.8 1077.4 803.8 1074.0 804.8 1070.5 805.8 1066.8 806.8 1063.0 807.8 1059.1 808.8 1054.9 809.8 1050.6 810.8 1046.1 811.8 1041.4 812.8 1036.5 813.8 1031.4 814.8 1026.0 815.8 1020.4 816.8 1014.6 817.8 1008.5 818.8 1002.2 819.8 995.6 820.8 988.7 821.8 981.5 822.8 974.0 823.8 966.2 824.8 958.1 825.8 949.6 826.8 940.8 827.8 931.7 828.8 922.2 829.8 912.4 830.8 902.3 831.8 891.7 832.8 880.9 833.8 869.6 834.8 858.1 835.8 846.1 836.8 833.9 837.8 821.3 838.8 808.4 839.8 795.1 840.8 781.6 841.8 767.8 842.8 753.8 843.8 739.5 844.8 725.0 845.8 710.3 846.8 695.4 847.8 680.4 848.8 665.3 849.8 650.1 850.8 634.9 851.8 619.8 852.8 604.6 853.8 589.5 854.8 574.6 855.8 559.8 856.8 545.2 857.8 530.9 858.8 516.8 859.8 503.1 860.8 489.7 861.8 476.8 862.8 464.2 863.8 452.2 864.8 440.6 865.8 429.6 866.8 419.1 867.8 409.3 868.8 400.0 869.8 391.4 870.8 383.5 871.8 376.2 872.8 369.7 873.8 363.8 874.8 358.7 875.8 354.3 876.8 350.7 877.8 347.8 878.8 345.7 879.8 344.3 880.8 343.6 881.8 343.8 882.8 344.6 883.8 346.3 884.8 348.6 885.8 351.7 886.8 355.4 887.8 359.9 888.8 365.1 889.8 370.9 890.8 377.4 891.8 384.5 892.8 392.2 893.8 400.6 894.8 409.5 895.8 418.9 896.8 428.9 897.8 439.4 898.8 450.4 899.8 461.9 900.8 473.8 901.8 486.1 902.8 498.7 903.8 511.7 904.8 525.0 905.8 538.6 906.8 552.4 907.8 566.4 908.8 580.6 909.8 594.9 910.8 609.3 911.8 623.7 912.8 638.2 913.8 652.6 914.8 666.9 915.8 681.2 916.8 695.4 917.8 709.3 918.8 723.1 919.8 736.7 920.8 750.1 921.8 763.2 922.8 775.9 923.8 788.4 924.8 800.6 925.8 812.4 926.8 823.9 927.8 835.0 928.8 845.8 929.8 856.2 930.8 866.1 931.8 875.8 932.8 885.0 933.8 893.8 934.8 902.3 935.8 910.3 936.8 918.0 937.8 925.3 938.8 932.3 939.8 938.9 940.8 945.1 941.8 951.0 942.8 956.6 943.8 961.8 944.8 966.8 945.8 971.4 946.8 975.7 947.8 979.8 948.8 983.5 949.8 987.0 950.8 990.3 951.8 993.3 952.8 996.1 953.8 998.7 954.8 1001.1 955.8 1003.2 956.8 1005.2 957.8 1007.0 958.8 1008.6 959.8 1010.1 960.8 1011.4 961.8 1012.6 962.8 1013.6 963.8 1014.5 964.8 1015.3 965.8 1016.0 966.8 1016.6 967.8 1017.0 968.8 1017.4 969.8 1017.7 970.8 1017.9 971.8 1018.0 972.8 1018.1 973.8 1018.0 974.8 1018.0 975.8 1017.8 976.8 1017.6 977.8 1017.3 978.8 1017.0 979.8 1016.7 980.8 1016.3 981.8 1015.8 982.8 1015.3 983.8 1014.8 984.8 1014.2 985.8 1013.6 986.8 1013.0 987.8 1012.4 988.8 1011.7 989.8 1011.0 990.8 1010.2 991.8 1009.5 992.8 1008.7 993.8 1007.9 994.8 1007.0 995.8 1006.2 996.8 1005.3 997.8 1004.4 998.8 1003.5 999.8 1002.6 1000.8 1001.6 1001.8 1000.7 1002.8 999.7 1003.8 998.7 1004.8 997.7 1005.8 996.7 1006.8 995.6 1007.8 994.6 1008.8 993.5 1009.8 992.5 1010.8 991.4 1011.8 990.3 1012.8 989.2 1013.8 988.1 1014.8 987.0 1015.8 985.8 1016.8 984.7 1017.8 983.5 1018.8 982.4 1019.8 981.2 1020.8 980.0 1021.8 978.8 1022.8 977.7 1023.8 976.5 1024.8 975.3 1025.8 974.0 1026.8 972.8 1027.8 971.6 1028.8 970.4 1029.8 969.2 1030.8 967.9 1031.8 966.7 1032.8 965.5 1033.8 964.2 1034.8 963.0 1035.8 961.7 1036.8 960.5 1037.8 959.2 1038.8 958.0 1039.8 956.7 1040.8 955.4 1041.8 954.2 1042.8 952.9 1043.8 951.7 1044.8 950.4 1045.8 949.1 1046.8 947.9 1047.8 946.6 1048.8 945.4 1049.8 944.1 1050.8 942.9 1051.8 941.6 1052.8 940.4 1053.8 939.2 1054.8 937.9 1055.8 936.7 1056.8 935.5 1057.8 934.3 1058.8 933.0 1059.8 931.8 1060.8 930.6 1061.8 929.4 1062.8 928.2 1063.8 927.0 1064.8 925.9 1065.8 924.7 1066.8 923.5 1067.8 922.4 1068.8 921.2 1069.8 920.1 1070.8 919.0 1071.8 917.8 1072.8 916.7 1073.8 915.6 1074.8 914.5 1075.8 913.5 1076.8 912.4 1077.8 911.3 1078.8 910.3 1079.8 909.2 1080.8 908.2 1081.8 907.2 1082.8 906.2 1083.8 905.2 1084.8 904.3 1085.8 903.3 1086.8 902.4 1087.8 901.4 1088.8 900.5 1089.8 899.6 1090.8 898.7 1091.8 897.8 1092.8 897.0 1093.8 896.1 1094.8 895.3 1095.8 894.5 1096.8 893.7 1097.8 892.9 1098.8 892.2 1099.8 891.4 1100.8 890.7 1101.8 890.0 1102.8 889.3 1103.8 888.6 1104.8 888.0 1105.8 887.3 1106.8 886.7 1107.8 886.1 1108.8 885.5 1109.8 885.0 1110.8 884.4 1111.8 883.9 1112.8 883.4 1113.8 882.9 1114.8 882.5 1115.8 882.0 1116.8 881.6 1117.8 881.2 1118.8 880.8 1119.8 880.4 1120.8 880.1 1121.8 879.8 1122.8 879.5 1123.8 879.2 1124.8 878.9 1125.8 878.7 1126.8 878.5 1127.8 878.3 1128.8 878.1 1129.8 878.0 1130.8 877.8 1131.8 877.7 1132.8 877.6 1133.8 877.6 1134.8 877.5 1135.8 877.5 1136.8 877.5 1137.8 877.5 1138.8 877.6 1139.8 877.7 1140.8 877.8 1141.8 877.9 1142.8 878.0 1143.8 878.2 1144.8 878.3 1145.8 878.6 1146.8 878.8 1147.8 879.0 1148.8 879.3 1149.8 879.6 1150.8 879.9 1151.8 880.2 1152.8 880.6 1153.8 881.0 1154.8 881.4 1155.8 881.8 1156.8 882.3 1157.8 882.7 1158.8 883.2 1159.8 883.7 1160.8 884.3 1161.8 884.8 1162.8 885.4 1163.8 886.0 1164.8 886.6 1165.8 887.3 1166.8 887.9 1167.8 888.6 1168.8 889.3 1169.8 890.0 1170.8 890.8 1171.8 891.5 1172.8 892.3 1173.8 893.1 1174.8 894.0 1175.8 894.8 1176.8 895.7 1177.8 896.6 1178.8 897.5 1179.8 898.4 1180.8 899.4 1181.8 900.3 1182.8 901.3 1183.8 902.3 1184.8 903.3 1185.8 904.4 1186.8 905.4 1187.8 906.5 1188.8 907.6 1189.8 908.7 1190.8 909.9 1191.8 911.0 1192.8 912.2 1193.8 913.4 1194.8 914.6 1195.8 915.8 1196.8 917.0 1197.8 918.3 1198.8 919.6 1199.8 920.8 1200.8 922.1 1201.8 923.5 1202.8 924.8 1203.8 926.2 1204.8 927.5 1205.8 928.9 1206.8 930.3 1207.8 931.7 1208.8 933.1 1209.8 934.6 1210.8 936.0 1211.8 937.5 1212.8 939.0 1213.8 940.5 1214.8 942.0 1215.8 943.5 1216.8 945.1 1217.8 946.6 1218.8 948.2 1219.8 949.8 1220.8 951.3 1221.8 952.9 1222.8 954.6 1223.8 956.2 1224.8 957.8 1225.8 959.5 1226.8 961.1 1227.8 962.8 1228.8 964.5 1229.8 966.2 1230.8 967.9 1231.8 969.6 1232.8 971.3 1233.8 973.1 1234.8 974.8 1235.8 976.6 1236.8 978.3 1237.8 980.1 1238.8 981.9 1239.8 983.7 1240.8 985.5 1241.8 987.3 1242.8 989.1 1243.8 991.0 1244.8 992.8 1245.8 994.6 1246.8 996.5 1247.8 998.3 1248.8 1000.2 1249.8 1002.1 1250.8 1004.0 1251.8 1005.9 1252.8 1007.8 1253.8 1009.7 1254.8 1011.6 1255.8 1013.5 1256.8 1015.4 1257.8 1017.3 1258.8 1019.3 1259.8 1021.2 1260.8 1023.1 1261.8 1025.1 1262.8 1027.1 1263.8 1029.0 1264.8 1031.0 1265.8 1032.9 1266.8 1034.9 1267.8 1036.9 1268.8 1038.9 1269.8 1040.9 1270.8 1042.9 1271.8 1044.8 1272.8 1046.8 1273.8 1048.8 1274.8 1050.8 1275.8 1052.9 1276.8 1054.9 1277.8 1056.9 1278.8 1058.9 1279.8 1060.9 1280.8 1062.9 1281.8 1065.0 1282.8 1067.0 1283.8 1069.0 1284.8 1071.0 1285.8 1073.1 1286.8 1075.1 1287.8 1077.1 1288.8 1079.2 1289.8 1081.2 1290.8 1083.2 1291.8 1085.3 1292.8 1087.3 1293.8 1089.3 1294.8 1091.4 1295.8 1093.4 1296.8 1095.5 1297.8 1097.5 1298.8 1099.5 1299.8 1101.6 1300.8 1103.6 1301.8 1105.6 1302.8 1107.7 1303.8 1109.7 1304.8 1111.7 1305.8 1113.8 1306.8 1115.8 1307.8 1117.8 1308.8 1119.9 1309.8 1121.9 1310.8 1123.9 1311.8 1125.9 1312.8 1128.0 1313.8 1130.0 1314.8 1132.0 1315.8 1134.0 1316.8 1136.0 1317.8 1138.0 1318.8 1140.0 1319.8 1142.0 1320.8 1144.0 1321.8 1146.0 1322.8 1148.0 1323.8 1150.0 1324.8 1152.0 1325.8 1154.0 1326.8 1156.0 1327.8 1158.0 1328.8 1159.9 1329.8 1161.9 1330.8 1163.9 1331.8 1165.8 1332.8 1167.8 1333.8 1169.8 1334.8 1171.7 1335.8 1173.7 1336.8 1175.6 1337.8 1177.5 1338.8 1179.5 1339.8 1181.4 1340.8 1183.3 1341.8 1185.2 1342.8 1187.1 1343.8 1189.0 1344.8 1190.9 1345.8 1192.8 1346.8 1194.7 1347.8 1196.6 1348.8 1198.5 1349.8 1200.4 1350.8 1202.2 1351.8 1204.1 1352.8 1205.9 1353.8 1207.8 1354.8 1209.6 1355.8 1211.5 1356.8 1213.3 1357.8 1215.1 1358.8 1217.0 1359.8 1218.8 1360.8 1220.6 1361.8 1222.4 1362.8 1224.2 1363.8 1225.9 1364.8 1227.7 1365.8 1229.5 1366.8 1231.3 1367.8 1233.0 1368.8 1234.8 1369.8 1236.5 1370.8 1238.2 1371.8 1240.0 1372.8 1241.7 1373.8 1243.4 1374.8 1245.1 1375.8 1246.8 1376.8 1248.5 1377.8 1250.2 1378.8 1251.9 1379.8 1253.5 1380.8 1255.2 1381.8 1256.8 1382.8 1258.5 1383.8 1260.1 1384.8 1261.7 1385.8 1263.4 1386.8 1265.0 1387.8 1266.6 1388.8 1268.2 1389.8 1269.8 1390.8 1271.3 1391.8 1272.9 1392.8 1274.5 1393.8 1276.0 1394.8 1277.6 1395.8 1279.1 1396.8 1280.6 1397.8 1282.2 1398.8 1283.7 1399.8 1285.2 1400.8 1286.7 1401.8 1288.2 1402.8 1289.6 1403.8 1291.1 1404.8 1292.6 1405.8 1294.0 1406.8 1295.5 1407.8 1296.9 1408.8 1298.3 1409.8 1299.7 1410.8 1301.2 1411.8 1302.6 1412.8 1304.0 1413.8 1305.3 1414.8 1306.7 1415.8 1308.1 1416.8 1309.4 1417.8 1310.8 1418.8 1312.1 1419.8 1313.4 1420.8 1314.8 1421.8 1316.1 1422.8 1317.4 1423.8 1318.7 1424.8 1320.0 1425.8 1321.2 1426.8 1322.5 1427.8 1323.8 1428.8 1325.0 1429.8 1326.3 1430.8 1327.5 1431.8 1328.7 1432.8 1329.9 1433.8 1331.1 1434.8 1332.3 1435.8 1333.5 1436.8 1334.7 1437.8 1335.9 1438.8 1337.0 1439.8 1338.2 1440.8 1339.3 1441.8 1340.5 1442.8 1341.6 1443.8 1342.7 1444.8 1343.8 1445.8 1344.9 1446.8 1346.0 1447.8 1347.1 1448.8 1348.2 1449.8 1349.3 1450.8 1350.3 1451.8 1351.4 1452.8 1352.4 1453.8 1353.4 1454.8 1354.5 1455.8 1355.5 1456.8 1356.5 1457.8 1357.5 1458.8 1358.5 1459.8 1359.5 1460.8 1360.4 1461.8 1361.4 1462.8 1362.4 1463.8 1363.3 1464.8 1364.2 1465.8 1365.2 1466.8 1366.1 1467.8 1367.0 1468.8 1367.9 1469.8 1368.8 1470.8 1369.7 1471.8 1370.6 1472.8 1371.5 1473.8 1372.4 1474.8 1373.2 1475.8 1374.1 1476.8 1374.9 1477.8 1375.8 1478.8 1376.6 1479.8 1377.4 1480.8 1378.2 1481.8 1379.0 1482.8 1379.8 1483.8 1380.6 1484.8 1381.4 1485.8 1382.2 1486.8 1382.9 1487.8 1383.7 1488.8 1384.5 1489.8 1385.2 1490.8 1386.0 1491.8 1386.7 1492.8 1387.4 1493.8 1388.1 1494.8 1388.8 1495.8 1389.5 1496.8 1390.2 1497.8 1390.9 1498.8 1391.6 1499.8 1392.3 1500.8 1393.0 1501.8 1393.6 1502.8 1394.3 1503.8 1394.9 1504.8 1395.6 1505.8 1396.2 1506.8 1396.8 1507.8 1397.5 1508.8 1398.1 1509.8 1398.7 1510.8 1399.3 1511.8 1399.9 1512.8 1400.5 1513.8 1401.1 1514.8 1401.7 1515.8 1402.2 1516.8 1402.8 1517.8 1403.4 1518.8 1403.9 1519.8 1404.5 1520.8 1405.0 1521.8 1405.6 1522.8 1406.1 1523.8 1406.6 1524.8 1407.1 1525.8 1407.6 1526.8 1408.2 1527.8 1408.7 1528.8 1409.2 1529.8 1409.6 1530.8 1410.1 1531.8 1410.6 1532.8 1411.1 1533.8 1411.6 1534.8 1412.0 1535.8 1412.5 1536.8 1412.9 1537.8 1413.4 1538.8 1413.8 1539.8 1414.3 1540.8 1414.7 1541.8 1415.1 1542.8 1415.6 1543.8 1416.0 1544.8 1416.4 1545.8 1416.8 1546.8 1417.2 1547.8 1417.6 1548.8 1418.0 1549.8 1418.4 1550.8 1418.8 1551.8 1419.2 1552.8 1419.6 1553.8 1419.9 1554.8 1420.3 1555.8 1420.7 1556.8 1421.0 1557.8 1421.4 1558.8 1421.8 1559.8 1422.1 1560.8 1422.4 1561.8 1422.8 1562.8 1423.1 1563.8 1423.5 1564.8 1423.8 1565.8 1424.1 1566.8 1424.4 1567.8 1424.8 1568.8 1425.1 1569.8 1425.4 1570.8 1425.7 1571.8 1426.0 1572.8 1426.3 1573.8 1426.6 1574.8 1426.9 1575.8 1427.2 1576.8 1427.5 1577.8 1427.7 1578.8 1428.0 1579.8 1428.3 1580.8 1428.6 1581.8 1428.8 1582.8 1429.1 1583.8 1429.4 1584.8 1429.6 1585.8 1429.9 1586.8 1430.1 1587.8 1430.4 1588.8 1430.6 1589.8 1430.9 1590.8 1431.1 1591.8 1431.3 1592.8 1431.6 1593.8 1431.8 1594.8 1432.0 1595.8 1432.3 1596.8 1432.5 1597.8 1432.7 1598.8 1432.9 1599.8 1433.1 1600.8 1433.4 1601.8 1433.6 1602.8 1433.8 1603.8 1434.0 1604.8 1434.2 1605.8 1434.4 1606.8 1434.6 1607.8 1434.8 1608.8 1435.0 1609.8 1435.2 1610.8 1435.4 1611.8 1435.5 1612.8 1435.7 1613.8 1435.9 1614.8 1436.1 1615.8 1436.3 1616.8 1436.4 1617.8 1436.6 1618.8 1436.8 1619.8 1437.0 1620.8 1437.1 1621.8 1437.3 1622.8 1437.5 1623.8 1437.6 1624.8 1437.8 1625.8 1437.9 1626.8 1438.1 1627.8 1438.2 1628.8 1438.4 1629.8 1438.6 1630.8 1438.7 1631.8 1438.8 1632.8 1439.0 1633.8 1439.1 1634.8 1439.3 1635.8 1439.4 1636.8 1439.6 1637.8 1439.7 1638.8 1439.8 1639.8 1440.0 1640.8 1440.1 1641.8 1440.2 1642.8 1440.4 1643.8 1440.5 1644.8 1440.6 1645.8 1440.7 1646.8 1440.9 1647.8 1441.0 1648.8 1441.1 1649.8 1441.2 1650.8 1441.3 1651.8 1441.5 1652.8 1441.6 1653.8 1441.7 1654.8 1441.8 1655.8 1441.9 1656.8 1442.0 1657.8 1442.1 1658.8 1442.2 1659.8 1442.3 1660.8 1442.4 1661.8 1442.5 1662.8 1442.6 1663.8 1442.7 1664.8 1442.8 1665.8 1442.9 1666.8 1443.0 1667.8 1443.1 1668.8 1443.2 1669.8 1443.3 1670.8 1443.4 1671.8 1443.5 1672.8 1443.6 1673.8 1443.7 1674.8 1443.8 1675.8 1443.9 1676.8 1444.0 1677.8 1444.1 1678.8 1444.1 1679.8 1444.2 1680.8 1444.3 1681.8 1444.4 1682.8 1444.5 1683.8 1444.6 1684.8 1444.6 1685.8 1444.7 1686.8 1444.8 1687.8 1444.9 1688.8 1445.0 1689.8 1445.0 1690.8 1445.1 1691.8 1445.2 1692.8 1445.3 1693.8 1445.3 1694.8 1445.4 1695.8 1445.5 1696.8 1445.6 1697.8 1445.6 1698.8 1445.7 1699.8 1445.8 1700.8 1445.8 1701.8 1445.9 1702.8 1446.0 1703.8 1446.0 1704.8 1446.1 1705.8 1446.2 1706.8 1446.2 1707.8 1446.3 1708.8 1446.4 1709.8 1446.4 1710.8 1446.5 1711.8 1446.5 1712.8 1446.6 1713.8 1446.7 1714.8 1446.7 1715.8 1446.8 1716.8 1446.8 1717.8 1446.9 1718.8 1447.0 1719.8 1447.0 1720.8 1447.1 1721.8 1447.1 1722.8 1447.2 1723.8 1447.2 1724.8 1447.3 1725.8 1447.3 1726.8 1447.4 1727.8 1447.5 1728.8 1447.5 1729.8 1447.6 1730.8 1447.6 1731.8 1447.7 1732.8 1447.7 1733.8 1447.8 1734.8 1447.8 1735.8 1447.9 1736.8 1447.9 1737.8 1448.0 1738.8 1448.0 1739.8 1448.1 1740.8 1448.1 1741.8 1448.2 1742.8 1448.2 1743.8 1448.2 1744.8 1448.3 1745.8 1448.3 1746.8 1448.4 1747.8 1448.4 1748.8 1448.5 1749.8 1448.5 1750.8 1448.6 1751.8 1448.6 1752.8 1448.6 1753.8 1448.7 1754.8 1448.7 1755.8 1448.8 1756.8 1448.8 1757.8 1448.9 1758.8 1448.9 1759.8 1448.9 1760.8 1449.0 1761.8 1449.0 1762.8 1449.1 1763.8 1449.1 1764.8 1449.1 1765.8 1449.2 1766.8 1449.2 1767.8 1449.2 1768.8 1449.3 1769.8 1449.3 1770.8 1449.4 1771.8 1449.4 1772.8 1449.4 1773.8 1449.5 1774.8 1449.5 1775.8 1449.5 1776.8 1449.6 1777.8 1449.6 1778.8 1449.6 1779.8 1449.7 1780.8 1449.7 1781.8 1449.7 1782.8 1449.8 1783.8 1449.8 1784.8 1449.8 1785.8 1449.9 1786.8 1449.9 1787.8 1449.9 1788.8 1450.0 1789.8 1450.0 1790.8 1450.0 1791.8 1450.1 1792.8 1450.1 1793.8 1450.1 1794.8 1450.2 1795.8 1450.2 1796.8 1450.2 1797.8 1450.3 1798.8 1450.3 1799.8 1450.3 1800.8 1450.4 1801.8 1450.4 1802.8 1450.4 1803.8 1450.4 1804.8 1450.5 1805.8 1450.5 1806.8 1450.5 1807.8 1450.6 1808.8 1450.6 1809.8 1450.6 1810.8 1450.6 1811.8 1450.7 1812.8 1450.7 1813.8 1450.7 1814.8 1450.7 1815.8 1450.8 1816.8 1450.8 1817.8 1450.8 1818.8 1450.9 1819.8 1450.9 1820.8 1450.9 1821.8 1450.9 1822.8 1451.0 1823.8 1451.0 1824.8 1451.0 1825.8 1451.0 1826.8 1451.1 1827.8 1451.1 1828.8 1451.1 1829.8 1451.1 1830.8 1451.2 1831.8 1451.2 1832.8 1451.2 1833.8 1451.2 1834.8 1451.2 1835.8 1451.3 1836.8 1451.3 1837.8 1451.3 1838.8 1451.3 1839.8 1451.4 1840.8 1451.4 1841.8 1451.4 1842.8 1451.4 1843.8 1451.5 1844.8 1451.5 1845.8 1451.5 1846.8 1451.5 1847.8 1451.5 1848.8 1451.6 1849.8 1451.6 1850.8 1451.6 1851.8 1451.6 1852.8 1451.6 1853.8 1451.7 1854.8 1451.7 1855.8 1451.7 1856.8 1451.7 1857.8 1451.7 1858.8 1451.8 1859.8 1451.8 1860.8 1451.8 1861.8 1451.8 1862.8 1451.8 1863.8 1451.9 1864.8 1451.9 1865.8 1451.9 1866.8 1451.9 1867.8 1451.9 1868.8 1452.0 1869.8 1452.0 1870.8 1452.0 1871.8 1452.0 1872.8 1452.0 1873.8 1452.0 1874.8 1452.1 1875.8 1452.1 1876.8 1452.1 1877.8 1452.1 1878.8 1452.1 1879.8 1452.2 1880.8 1452.2 1881.8 1452.2 1882.8 1452.2 1883.8 1452.2 1884.8 1452.2 1885.8 1452.3 1886.8 1452.3 1887.8 1452.3 1888.8 1452.3 1889.8 1452.3 1890.8 1452.3 1891.8 1452.4 1892.8 1452.4 1893.8 1452.4 1894.8 1452.4 1895.8 1452.4 1896.8 1452.4 1897.8 1452.4 1898.8 1452.5 1899.8 1452.5 1900.8 1452.5 1901.8 1452.5 1902.8 1452.5 1903.8 1452.5 1904.8 1452.5 1905.8 1452.6 1906.8 1452.6 1907.8 1452.6 1908.8 1452.6 1909.8 1452.6 1910.8 1452.6 1911.8 1452.6 1912.8 1452.7 1913.8 1452.7 1914.8 1452.7 1915.8 1452.7 1916.8 1452.7 1917.8 1452.7 1918.8 1452.7 1919.8 1452.8 1920.8 1452.8 1921.8 1452.8 1922.8 1452.8 1923.8 1452.8 1924.8 1452.8 1925.8 1452.8 1926.8 1452.8 1927.8 1452.9 1928.8 1452.9 1929.8 1452.9 1930.8 1452.9 1931.8 1452.9 1932.8 1452.9 1933.8 1452.9 1934.8 1452.9 1935.8 1452.9 1936.8 1453.0 1937.8 1453.0 1938.8 1453.0 1939.8 1453.0 1940.8 1453.0 1941.8 1453.0 1942.8 1453.0 1943.8 1453.0 1944.8 1453.0 1945.8 1453.1 1946.8 1453.1 1947.8 1453.1 1948.8 1453.1 1949.8 1453.1 1950.8 1453.1 1951.8 1453.1 1952.8 1453.1 1953.8 1453.1 1954.8 1453.2 1955.8 1453.2 1956.8 1453.2 1957.8 1453.2 1958.8 1453.2 1959.8 1453.2 1960.8 1453.2 1961.8 1453.2 1962.8 1453.2 1963.8 1453.2 1964.8 1453.2 1965.8 1453.3 1966.8 1453.3 1967.8 1453.3 1968.8 1453.3 1969.8 1453.3 1970.8 1453.3 1971.8 1453.3 1972.8 1453.3 1973.8 1453.3 1974.8 1453.3 1975.8 1453.3 1976.8 1453.3 1977.8 1453.4 1978.8 1453.4 1979.8 1453.4 1980.8 1453.4 1981.8 1453.4 1982.8 1453.4 1983.8 1453.4 1984.8 1453.4 1985.8 1453.4 1986.8 1453.4 1987.8 1453.4 1988.8 1453.4 1989.8 1453.5 1990.8 1453.5 1991.8 1453.5 1992.8 1453.5 1993.8 1453.5 1994.8 1453.5 1995.8 1453.5 1996.8 1453.5 1997.8 1453.5 1998.8 1453.5 1999.8 1453.5 2000.8 1453.5 2001.8 1453.5 2002.8 1453.5 2003.8 1453.5 2004.8 1453.6 2005.8 1453.6 2006.8 1453.6 2007.8 1453.6 2008.8 1453.6 2009.8 1453.6 2010.8 1453.6 2011.8 1453.6 2012.8 1453.6 2013.8 1453.6 2014.8 1453.6 2015.8 1453.6 2016.8 1453.6 2017.8 1453.6 2018.8 1453.6 2019.8 1453.6 2020.8 1453.6 2021.8 1453.6 2022.8 1453.7 2023.8 1453.7 2024.8 1453.7 2025.8 1453.7 2026.8 1453.7 2027.8 1453.7 2028.8 1453.7 2029.8 1453.7 2030.8 1453.7 2031.8 1453.7 2032.8 1453.7 2033.8 1453.7 2034.8 1453.7 2035.8 1453.7 2036.8 1453.7 2037.8 1453.7 2038.8 1453.7 2039.8 1453.7 2040.8 1453.7 2041.8 1453.7 2042.8 1453.7 2043.8 1453.7 2044.8 1453.8 2045.8 1453.8 2046.8 1453.8 2047.8 1453.8 2048.8 1453.8 2049.8 1453.8 2050.8 1453.8 2051.8 1453.8 2052.8 1453.8 2053.8 1453.8 2054.8 1453.8 2055.8 1453.8 2056.8 1453.8 2057.8 1453.8 2058.8 1453.8 2059.8 1453.8 2060.8 1453.8 2061.8 1453.8 2062.8 1453.8 2063.8 1453.8 2064.8 1453.8 2065.8 1453.8 2066.8 1453.8 2067.8 1453.8 2068.8 1453.8 2069.8 1453.8 2070.8 1453.8 2071.8 1453.8 2072.8 1453.8 2073.8 1453.8 2074.8 1453.8 2075.8 1453.8 2076.8 1453.9 2077.8 1453.9 2078.8 1453.9 2079.8 1453.9 2080.8 1453.9 2081.8 1453.9 2082.8 1453.9 2083.8 1453.9 2084.8 1453.9 2085.8 1453.9 2086.8 1453.9 2087.8 1453.9 2088.8 1453.9 2089.8 1453.9 2090.8 1453.9 2091.8 1453.9 2092.8 1453.9 2093.8 1453.9 2094.8 1453.9 2095.8 1453.9 2096.8 1453.9 2097.8 1453.9 2098.8 1453.9 2099.8 1453.9 2100.8 1453.9 2101.8 1453.9 2102.8 1453.9 2103.8 1453.9 2104.8 1453.9 2105.8 1453.9 2106.8 1453.9 2107.8 1453.9 2108.8 1453.9 2109.8 1453.9 2110.8 1453.9 2111.8 1453.9 2112.8 1453.9 2113.8 1453.9 2114.8 1453.9 2115.8 1453.9 2116.8 1453.9 2117.8 1453.9 2118.8 1453.9 2119.8 1453.9 2120.8 1453.9 2121.8 1453.9 2122.8 1453.9 2123.8 1453.9 2124.8 1453.9 2125.8 1453.9 2126.8 1453.9 2127.8 1453.9 2128.8 1453.9 2129.8 1453.9 2130.8 1453.9 2131.8 1453.9 2132.8 1453.9 2133.8 1453.9 2134.8 1453.9 2135.8 1453.9 2136.8 1453.9 2137.8 1453.9 2138.8 1453.9 2139.8 1453.9 2140.8 1453.9 2141.8 1453.9 2142.8 1453.9 2143.8 1453.9 2144.8 1453.9 2145.8 1453.9 2146.8 1453.9 2147.8 1453.9 2148.8 1453.9 2149.8 1453.9 2150.8 1453.9 2151.8 1453.9 2152.8 1453.9 2153.8 1453.9 2154.8 1453.9 2155.8 1453.9 2156.8 1453.9 2157.8 1453.9 2158.8 1453.9 2159.8 1453.9 2160.8 1453.9 2161.8 1453.9 2162.8 1453.9 2163.8 1453.9 2164.8 1453.9 2165.8 1453.9 2166.8 1453.9 2167.8 1453.9 2168.8 1453.9 2169.8 1453.9 2170.8 1453.9 2171.8 1453.9 2172.8 1453.9 2173.8 1453.9 2174.8 1453.9 2175.8 1453.9 2176.8 1453.9 2177.8 1453.9 2178.8 1453.9 2179.8 1453.9 2180.8 1453.9 2181.8 1453.9 2182.8 1453.9 2183.8 1453.8 2184.8 1453.8 2185.8 1453.8 2186.8 1453.8 2187.8 1453.8 2188.8 1453.8 2189.8 1453.8 2190.8 1453.8 2191.8 1453.8 2192.8 1453.8 2193.8 1453.8 2194.8 1453.8 2195.8 1453.8 2196.8 1453.8 2197.8 1453.8 2198.8 1453.8 2199.8 1453.8 2200.8 1453.8 2201.8 1453.8 2202.8 1453.8 2203.8 1453.8 2204.8 1453.8 2205.8 1453.8 2206.8 1453.8 2207.8 1453.8 2208.8 1453.8 2209.8 1453.8 2210.8 1453.8 2211.8 1453.8 2212.8 1453.8 2213.8 1453.8 2214.8 1453.8 2215.8 1453.8 2216.8 1453.8 2217.8 1453.8 2218.8 1453.8 2219.8 1453.8 2220.8 1453.8 2221.8 1453.7 2222.8 1453.7 2223.8 1453.7 2224.8 1453.7 2225.8 1453.7 2226.8 1453.7 2227.8 1453.7 2228.8 1453.7 2229.8 1453.7 2230.8 1453.7 2231.8 1453.7 2232.8 1453.7 2233.8 1453.7 2234.8 1453.7 2235.8 1453.7 2236.8 1453.7 2237.8 1453.7 2238.8 1453.7 2239.8 1453.7 2240.8 1453.7 2241.8 1453.7 2242.8 1453.7 2243.8 1453.7 2244.8 1453.7 2245.8 1453.7 2246.8 1453.7 2247.8 1453.7 2248.8 1453.7 2249.8 1453.7 2250.8 1453.6 2251.8 1453.6 2252.8 1453.6 2253.8 1453.6 2254.8 1453.6 2255.8 1453.6 2256.0 1453.6"/>
</g>
<g id="axes" class="ax">
<rect x="272" y="64" width="6" height="1451"/>
<rect x="244" y="1481" width="2012" height="5"/>
<rect x="244" y="1244" width="31" height="5"/>
<rect x="244" y="1008" width="31" height="5"/>
<rect x="244" y="772" width="31" height="5"/>
<rect x="244" y="535" width="31" height="5"/>
<rect x="244" y="298" width="31" height="5"/>
<rect x="244" y="62" width="31" height="5"/>
<rect x="259" y="1363" width="16" height="5"/>
<rect x="259" y="1126" width="16" height="5"/>
<rect x="259" y="890" width="16" height="5"/>
<rect x="259" y="653" width="16" height="5"/>
<rect x="259" y="417" width="16" height="5"/>
<rect x="259" y="180" width="16" height="5"/>
<rect x="633" y="1483" width="5" height="32"/>
<rect x="993" y="1483" width="5" height="32"/>
<rect x="1353" y="1483" width="5" height="32"/>
<rect x="1713" y="1483" width="5" height="32"/>
<rect x="2073" y="1483" width="5" height="32"/>
<rect x="453" y="1483" width="5" height="16"/>
<rect x="813" y="1483" width="5" height="16"/>
<rect x="1173" y="1483" width="5" height="16"/>
<rect x="1533" y="1483" width="5" height="16"/>
<rect x="1893" y="1483" width="5" height="16"/>
<rect x="2253" y="1483" width="5" height="16"/>
</g>
<g id="yticks">
<text class="tick" text-anchor="end" transform="translate(222.60 1502.10) scale(1.0000 1.0450)">0</text>
<text class="tick" text-anchor="end" transform="translate(222.60 1265.60) scale(1.0000 1.0450)">20</text>
<text class="tick" text-anchor="end" transform="translate(222.60 1029.10) scale(1.0000 1.0450)">40</text>
<text class="tick" text-anchor="end" transform="translate(222.60 792.60) scale(1.0000 1.0450)">60</text>
<text class="tick" text-anchor="end" transform="translate(222.60 556.10) scale(1.0000 1.0450)">80</text>
<text class="tick" text-anchor="end" transform="translate(222.60 319.60) scale(1.0000 1.0450)">100</text>
<text class="tick" text-anchor="end" transform="translate(222.60 83.10) scale(1.0000 1.0450)">120</text>
</g>
<g id="xticks">
<text class="tick" text-anchor="middle" transform="translate(275.50 1583.20) scale(1.0000 1.0450)">0</text>
<text class="tick" text-anchor="middle" transform="translate(635.60 1583.20) scale(1.0000 1.0450)">10</text>
<text class="tick" text-anchor="middle" transform="translate(995.70 1583.20) scale(1.0000 1.0450)">20</text>
<text class="tick" text-anchor="middle" transform="translate(1355.80 1583.20) scale(1.0000 1.0450)">30</text>
<text class="tick" text-anchor="middle" transform="translate(1715.90 1583.20) scale(1.0000 1.0450)">40</text>
<text class="tick" text-anchor="middle" transform="translate(2076.00 1583.20) scale(1.0000 1.0450)">50</text>
</g>
<g id="labels">
<text class="tick" text-anchor="middle" transform="translate(887.50 125.20) scale(1.0000 1.0450)">(200)</text>
<text class="tick" text-anchor="middle" transform="translate(690.00 746.00) scale(1.0000 1.0450)">(110)</text>
</g>
<text class="ttl" transform="translate(1011.5 1707.3) scale(1 1.012)">2Θ<tspan dx="3.6" style="letter-spacing:-0.25px"> [degrees]</tspan></text>
<text class="ttl" text-anchor="middle" transform="translate(88.1 674.3) rotate(-90) scale(1 1.012)">Intensity</text>
<g id="legend">
<rect x="1471" y="106" width="681" height="259" fill="#fff" stroke="#000" stroke-width="4" shape-rendering="crispEdges"/>
<rect x="1525" y="158" width="151" height="5" fill="#000000" shape-rendering="crispEdges"/>
<text class="leg" transform="translate(1693.50 184.20) scale(1.0000 1.0450)">Membrane &quot;0&quot;</text>
<rect x="1525" y="240" width="151" height="6" fill="#ff0000" shape-rendering="crispEdges"/>
<text class="leg" transform="translate(1693.50 266.70) scale(1.0000 1.0450)">Membrane D</text>
<rect x="1525" y="323" width="151" height="5" fill="#0000ff" shape-rendering="crispEdges"/>
<text class="leg" transform="translate(1693.50 349.20) scale(1.0000 1.0450)">Membrane G</text>
</g>
</svg>
</body>
</html>
